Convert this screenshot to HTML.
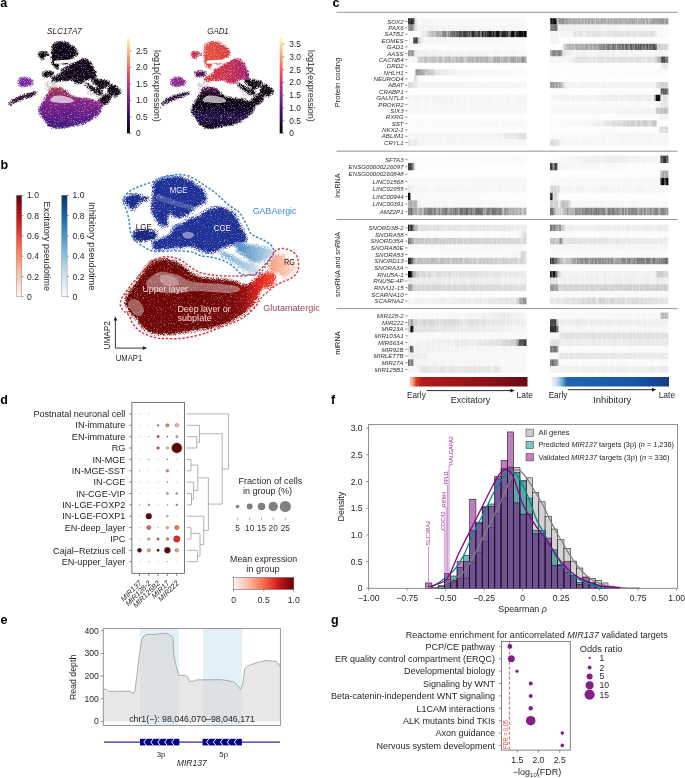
<!DOCTYPE html>
<html><head><meta charset="utf-8"><title>Figure</title>
<style>
html,body{margin:0;padding:0;background:#fff;width:685px;height:778px;overflow:hidden}
svg{display:block}
text{font-family:"Liberation Sans", sans-serif}
</style></head><body>
<svg width="685" height="778" viewBox="0 0 685 778">
<defs>
<filter id="spk" x="-10%" y="-10%" width="120%" height="120%" color-interpolation-filters="sRGB"><feTurbulence type="fractalNoise" baseFrequency="1.7" numOctaves="1" seed="7" result="n"/><feColorMatrix in="n" type="matrix" values="0 0 0 0 0  0 0 0 0 0  0 0 0 0 0  2.4 0 0 0 -0.7" result="na"/><feGaussianBlur in="SourceAlpha" stdDeviation="1.5" result="ba"/><feComposite in="ba" in2="na" operator="arithmetic" k1="0" k2="1" k3="-1" k4="0.58" result="d"/><feComponentTransfer in="d" result="m"><feFuncA type="linear" slope="1.15" intercept="0"/></feComponentTransfer><feMorphology in="SourceGraphic" operator="dilate" radius="1.5" result="dg"/><feComposite in="dg" in2="m" operator="in"/></filter>
<filter id="spk2" x="-10%" y="-10%" width="120%" height="120%" color-interpolation-filters="sRGB"><feTurbulence type="fractalNoise" baseFrequency="1.7" numOctaves="1" seed="3" result="n"/><feColorMatrix in="n" type="matrix" values="0 0 0 0 0  0 0 0 0 0  0 0 0 0 0  2.4 0 0 0 -0.7" result="na"/><feGaussianBlur in="SourceAlpha" stdDeviation="1.0" result="ba"/><feComposite in="ba" in2="na" operator="arithmetic" k1="0" k2="1" k3="-1" k4="0.56" result="d"/><feComponentTransfer in="d" result="m"><feFuncA type="linear" slope="1.1" intercept="0"/></feComponentTransfer><feMorphology in="SourceGraphic" operator="dilate" radius="1" result="dg"/><feComposite in="dg" in2="m" operator="in"/></filter>
<filter id="holes" x="-10%" y="-10%" width="120%" height="120%" color-interpolation-filters="sRGB"><feTurbulence type="fractalNoise" baseFrequency="1.9" numOctaves="1" seed="11" result="n"/><feColorMatrix in="n" type="matrix" values="0 0 0 0 0  0 0 0 0 0  0 0 0 0 0  3 0 0 0 -1" result="na"/><feGaussianBlur in="SourceAlpha" stdDeviation="1.5" result="ba"/><feComposite in="ba" in2="na" operator="arithmetic" k1="0" k2="1" k3="-1" k4="0.05" result="d"/><feComponentTransfer in="d" result="m"><feFuncA type="discrete" tableValues="0 1"/></feComponentTransfer><feComposite in="SourceGraphic" in2="m" operator="in"/></filter>
<linearGradient id="gMag" x1="0" y1="1" x2="0" y2="0"><stop offset="0" stop-color="#000004"/><stop offset="0.13" stop-color="#1c1044"/><stop offset="0.25" stop-color="#4f127b"/><stop offset="0.38" stop-color="#812581"/><stop offset="0.5" stop-color="#b5367a"/><stop offset="0.63" stop-color="#e55064"/><stop offset="0.75" stop-color="#fb8761"/><stop offset="0.88" stop-color="#fec287"/><stop offset="1" stop-color="#fcfdbf"/></linearGradient>
<linearGradient id="gA1red" x1="0" y1="258" x2="0" y2="334" gradientUnits="userSpaceOnUse"><stop offset="0" stop-color="#b03a3c"/><stop offset="0.18" stop-color="#8e2a62"/><stop offset="0.4" stop-color="#7c2288"/><stop offset="0.72" stop-color="#5c1a88"/><stop offset="1" stop-color="#3a1474"/></linearGradient>
<linearGradient id="gA2red" x1="0" y1="258" x2="0" y2="334" gradientUnits="userSpaceOnUse"><stop offset="0" stop-color="#5a1450"/><stop offset="0.15" stop-color="#260826"/><stop offset="0.3" stop-color="#08020a"/><stop offset="0.55" stop-color="#0e0420"/><stop offset="0.72" stop-color="#241048"/><stop offset="0.88" stop-color="#160630"/><stop offset="1" stop-color="#08020a"/></linearGradient>
<linearGradient id="gA2mge" x1="150" y1="220" x2="208" y2="180" gradientUnits="userSpaceOnUse"><stop offset="0" stop-color="#d03a48"/><stop offset="0.3" stop-color="#e4523e"/><stop offset="0.6" stop-color="#dc4440"/><stop offset="1" stop-color="#d03a3c"/></linearGradient>
<linearGradient id="gA2cge" x1="150" y1="0" x2="246" y2="0" gradientUnits="userSpaceOnUse"><stop offset="0" stop-color="#d63a44"/><stop offset="0.5" stop-color="#c8304e"/><stop offset="0.8" stop-color="#b02660"/><stop offset="1" stop-color="#8a1e6c"/></linearGradient>
<linearGradient id="gExcV" x1="0" y1="1" x2="0" y2="0"><stop offset="0" stop-color="#fff5f0"/><stop offset="0.25" stop-color="#fcbba1"/><stop offset="0.5" stop-color="#fb6a4a"/><stop offset="0.75" stop-color="#cb181d"/><stop offset="1" stop-color="#67000d"/></linearGradient>
<linearGradient id="gInhV" x1="0" y1="1" x2="0" y2="0"><stop offset="0" stop-color="#f7fbff"/><stop offset="0.25" stop-color="#c6dbef"/><stop offset="0.5" stop-color="#6baed6"/><stop offset="0.75" stop-color="#2171b5"/><stop offset="1" stop-color="#08306b"/></linearGradient>
<linearGradient id="gTail" x1="235" y1="0" x2="273" y2="0" gradientUnits="userSpaceOnUse"><stop offset="0" stop-color="#4f86bf"/><stop offset="0.5" stop-color="#79a9d0"/><stop offset="1" stop-color="#bcd7e9"/></linearGradient>
<linearGradient id="gTail2" x1="220" y1="0" x2="258" y2="0" gradientUnits="userSpaceOnUse"><stop offset="0" stop-color="#6f9fcc"/><stop offset="1" stop-color="#c4dcea"/></linearGradient>
<linearGradient id="gRG" x1="270" y1="0" x2="296" y2="0" gradientUnits="userSpaceOnUse"><stop offset="0" stop-color="#f79478"/><stop offset="0.45" stop-color="#fab59c"/><stop offset="1" stop-color="#fdd8c8"/></linearGradient>
<linearGradient id="gRed" x1="200" y1="0" x2="276" y2="0" gradientUnits="userSpaceOnUse"><stop offset="0" stop-color="#700707"/><stop offset="0.45" stop-color="#780909"/><stop offset="0.62" stop-color="#981010"/><stop offset="0.78" stop-color="#d8221c"/><stop offset="1" stop-color="#f24a34"/></linearGradient>
<linearGradient id="h1"><stop offset="0.0000" stop-color="rgb(25,25,25)"/><stop offset="0.0464" stop-color="rgb(31,31,31)"/><stop offset="0.0632" stop-color="rgb(222,222,222)"/><stop offset="0.0843" stop-color="rgb(245,245,245)"/><stop offset="1.0000" stop-color="rgb(249,249,249)"/></linearGradient>
<linearGradient id="h2"><stop offset="0.0000" stop-color="rgb(0,0,0)"/><stop offset="0.0507" stop-color="rgb(0,0,0)"/><stop offset="0.0633" stop-color="rgb(187,187,187)"/><stop offset="0.0802" stop-color="rgb(137,137,137)"/><stop offset="0.1351" stop-color="rgb(137,137,137)"/><stop offset="0.1520" stop-color="rgb(165,165,165)"/><stop offset="0.8446" stop-color="rgb(165,165,165)"/><stop offset="0.8953" stop-color="rgb(143,143,143)"/><stop offset="1.0000" stop-color="rgb(149,149,149)"/></linearGradient>
<linearGradient id="h3"><stop offset="0.0000" stop-color="rgb(126,126,126)"/><stop offset="0.0464" stop-color="rgb(137,137,137)"/><stop offset="0.0632" stop-color="rgb(209,209,209)"/><stop offset="0.0843" stop-color="rgb(242,242,242)"/><stop offset="1.0000" stop-color="rgb(246,246,246)"/></linearGradient>
<linearGradient id="h4"><stop offset="0.0000" stop-color="rgb(104,104,104)"/><stop offset="0.0549" stop-color="rgb(109,109,109)"/><stop offset="0.0676" stop-color="rgb(237,237,237)"/><stop offset="1.0000" stop-color="rgb(247,247,247)"/></linearGradient>
<linearGradient id="h5"><stop offset="0.0000" stop-color="rgb(254,254,254)"/><stop offset="0.0843" stop-color="rgb(252,252,252)"/><stop offset="0.1349" stop-color="rgb(232,232,232)"/><stop offset="0.2530" stop-color="rgb(160,160,160)"/><stop offset="0.3794" stop-color="rgb(93,93,93)"/><stop offset="0.5059" stop-color="rgb(53,53,53)"/><stop offset="0.6745" stop-color="rgb(25,25,25)"/><stop offset="1.0000" stop-color="rgb(0,0,0)"/></linearGradient>
<linearGradient id="h6"><stop offset="0.0000" stop-color="rgb(245,245,245)"/><stop offset="0.1858" stop-color="rgb(244,244,244)"/><stop offset="0.2111" stop-color="rgb(227,227,227)"/><stop offset="0.8953" stop-color="rgb(225,225,225)"/><stop offset="0.9122" stop-color="rgb(248,248,248)"/><stop offset="1.0000" stop-color="rgb(249,249,249)"/></linearGradient>
<linearGradient id="h7"><stop offset="0.0000" stop-color="rgb(253,253,253)"/><stop offset="0.0379" stop-color="rgb(253,253,253)"/><stop offset="0.0464" stop-color="rgb(37,37,37)"/><stop offset="0.0759" stop-color="rgb(37,37,37)"/><stop offset="0.0885" stop-color="rgb(187,187,187)"/><stop offset="0.1180" stop-color="rgb(244,244,244)"/><stop offset="1.0000" stop-color="rgb(249,249,249)"/></linearGradient>
<linearGradient id="h8"><stop offset="0.0000" stop-color="rgb(242,242,242)"/><stop offset="0.0676" stop-color="rgb(242,242,242)"/><stop offset="0.0845" stop-color="rgb(253,253,253)"/><stop offset="1.0000" stop-color="rgb(253,253,253)"/></linearGradient>
<linearGradient id="h9"><stop offset="0.0000" stop-color="rgb(252,252,252)"/><stop offset="1.0000" stop-color="rgb(250,250,250)"/></linearGradient>
<linearGradient id="h10"><stop offset="0.0000" stop-color="rgb(253,253,253)"/><stop offset="0.1014" stop-color="rgb(253,253,253)"/><stop offset="0.1351" stop-color="rgb(179,179,179)"/><stop offset="0.3378" stop-color="rgb(160,160,160)"/><stop offset="0.4645" stop-color="rgb(126,126,126)"/><stop offset="0.6757" stop-color="rgb(93,93,93)"/><stop offset="0.8446" stop-color="rgb(76,76,76)"/><stop offset="0.8953" stop-color="rgb(76,76,76)"/><stop offset="0.9079" stop-color="rgb(209,209,209)"/><stop offset="1.0000" stop-color="rgb(209,209,209)"/></linearGradient>
<linearGradient id="h11"><stop offset="0.0000" stop-color="rgb(126,126,126)"/><stop offset="0.0379" stop-color="rgb(137,137,137)"/><stop offset="0.0548" stop-color="rgb(216,216,216)"/><stop offset="0.0759" stop-color="rgb(239,239,239)"/><stop offset="1.0000" stop-color="rgb(246,246,246)"/></linearGradient>
<linearGradient id="h12"><stop offset="0.0000" stop-color="rgb(121,121,121)"/><stop offset="0.0929" stop-color="rgb(126,126,126)"/><stop offset="0.1098" stop-color="rgb(222,222,222)"/><stop offset="0.1689" stop-color="rgb(239,239,239)"/><stop offset="1.0000" stop-color="rgb(245,245,245)"/></linearGradient>
<linearGradient id="h13"><stop offset="0.0000" stop-color="rgb(246,246,246)"/><stop offset="0.0759" stop-color="rgb(244,244,244)"/><stop offset="0.0927" stop-color="rgb(195,195,195)"/><stop offset="0.5059" stop-color="rgb(179,179,179)"/><stop offset="0.8432" stop-color="rgb(165,165,165)"/><stop offset="1.0000" stop-color="rgb(137,137,137)"/></linearGradient>
<linearGradient id="h14"><stop offset="0.0000" stop-color="rgb(245,245,245)"/><stop offset="0.1858" stop-color="rgb(242,242,242)"/><stop offset="0.2111" stop-color="rgb(225,225,225)"/><stop offset="0.8868" stop-color="rgb(222,222,222)"/><stop offset="0.9291" stop-color="rgb(160,160,160)"/><stop offset="0.9459" stop-color="rgb(70,70,70)"/><stop offset="1.0000" stop-color="rgb(76,76,76)"/></linearGradient>
<linearGradient id="h15"><stop offset="0.0000" stop-color="rgb(254,254,254)"/><stop offset="1.0000" stop-color="rgb(253,253,253)"/></linearGradient>
<linearGradient id="h16"><stop offset="0.0000" stop-color="rgb(253,253,253)"/><stop offset="0.9291" stop-color="rgb(252,252,252)"/><stop offset="0.9459" stop-color="rgb(232,232,232)"/><stop offset="1.0000" stop-color="rgb(232,232,232)"/></linearGradient>
<linearGradient id="h17"><stop offset="0.0000" stop-color="rgb(254,254,254)"/><stop offset="0.0590" stop-color="rgb(254,254,254)"/><stop offset="0.0675" stop-color="rgb(126,126,126)"/><stop offset="0.1012" stop-color="rgb(154,154,154)"/><stop offset="0.2530" stop-color="rgb(227,227,227)"/><stop offset="0.4216" stop-color="rgb(245,245,245)"/><stop offset="1.0000" stop-color="rgb(249,249,249)"/></linearGradient>
<linearGradient id="h18"><stop offset="0.0000" stop-color="rgb(252,252,252)"/><stop offset="1.0000" stop-color="rgb(250,250,250)"/></linearGradient>
<linearGradient id="h19"><stop offset="0.0000" stop-color="rgb(254,254,254)"/><stop offset="0.0464" stop-color="rgb(254,254,254)"/><stop offset="0.0548" stop-color="rgb(222,222,222)"/><stop offset="0.0843" stop-color="rgb(232,232,232)"/><stop offset="0.0927" stop-color="rgb(253,253,253)"/><stop offset="1.0000" stop-color="rgb(254,254,254)"/></linearGradient>
<linearGradient id="h20"><stop offset="0.0000" stop-color="rgb(253,253,253)"/><stop offset="1.0000" stop-color="rgb(253,253,253)"/></linearGradient>
<linearGradient id="h21"><stop offset="0.0000" stop-color="rgb(209,209,209)"/><stop offset="0.0422" stop-color="rgb(222,222,222)"/><stop offset="0.0843" stop-color="rgb(242,242,242)"/><stop offset="1.0000" stop-color="rgb(245,245,245)"/></linearGradient>
<linearGradient id="h22"><stop offset="0.0000" stop-color="rgb(149,149,149)"/><stop offset="0.0845" stop-color="rgb(160,160,160)"/><stop offset="0.1267" stop-color="rgb(232,232,232)"/><stop offset="0.1689" stop-color="rgb(242,242,242)"/><stop offset="0.8868" stop-color="rgb(242,242,242)"/><stop offset="0.9122" stop-color="rgb(209,209,209)"/><stop offset="1.0000" stop-color="rgb(209,209,209)"/></linearGradient>
<linearGradient id="h23"><stop offset="0.0000" stop-color="rgb(253,253,253)"/><stop offset="1.0000" stop-color="rgb(253,253,253)"/></linearGradient>
<linearGradient id="h24"><stop offset="0.0000" stop-color="rgb(253,253,253)"/><stop offset="0.9291" stop-color="rgb(252,252,252)"/><stop offset="0.9375" stop-color="rgb(81,81,81)"/><stop offset="1.0000" stop-color="rgb(81,81,81)"/></linearGradient>
<linearGradient id="h25"><stop offset="0.0000" stop-color="rgb(242,242,242)"/><stop offset="1.0000" stop-color="rgb(245,245,245)"/></linearGradient>
<linearGradient id="h26"><stop offset="0.0000" stop-color="rgb(244,244,244)"/><stop offset="0.8784" stop-color="rgb(235,235,235)"/><stop offset="0.8953" stop-color="rgb(14,14,14)"/><stop offset="0.9291" stop-color="rgb(14,14,14)"/><stop offset="0.9375" stop-color="rgb(222,222,222)"/><stop offset="1.0000" stop-color="rgb(222,222,222)"/></linearGradient>
<linearGradient id="h27"><stop offset="0.0000" stop-color="rgb(245,245,245)"/><stop offset="1.0000" stop-color="rgb(244,244,244)"/></linearGradient>
<linearGradient id="h28"><stop offset="0.0000" stop-color="rgb(250,250,250)"/><stop offset="0.9291" stop-color="rgb(248,248,248)"/><stop offset="0.9375" stop-color="rgb(227,227,227)"/><stop offset="1.0000" stop-color="rgb(227,227,227)"/></linearGradient>
<linearGradient id="h29"><stop offset="0.0000" stop-color="rgb(247,247,247)"/><stop offset="1.0000" stop-color="rgb(245,245,245)"/></linearGradient>
<linearGradient id="h30"><stop offset="0.0000" stop-color="rgb(246,246,246)"/><stop offset="0.8868" stop-color="rgb(242,242,242)"/><stop offset="0.9037" stop-color="rgb(195,195,195)"/><stop offset="1.0000" stop-color="rgb(187,187,187)"/></linearGradient>
<linearGradient id="h31"><stop offset="0.0000" stop-color="rgb(253,253,253)"/><stop offset="1.0000" stop-color="rgb(253,253,253)"/></linearGradient>
<linearGradient id="h32"><stop offset="0.0000" stop-color="rgb(253,253,253)"/><stop offset="0.9122" stop-color="rgb(252,252,252)"/><stop offset="0.9291" stop-color="rgb(242,242,242)"/><stop offset="1.0000" stop-color="rgb(242,242,242)"/></linearGradient>
<linearGradient id="h33"><stop offset="0.0000" stop-color="rgb(250,250,250)"/><stop offset="1.0000" stop-color="rgb(248,248,248)"/></linearGradient>
<linearGradient id="h34"><stop offset="0.0000" stop-color="rgb(252,252,252)"/><stop offset="0.3378" stop-color="rgb(246,246,246)"/><stop offset="0.6334" stop-color="rgb(209,209,209)"/><stop offset="0.8953" stop-color="rgb(195,195,195)"/><stop offset="0.9079" stop-color="rgb(253,253,253)"/><stop offset="1.0000" stop-color="rgb(253,253,253)"/></linearGradient>
<linearGradient id="h35"><stop offset="0.0000" stop-color="rgb(252,252,252)"/><stop offset="1.0000" stop-color="rgb(252,252,252)"/></linearGradient>
<linearGradient id="h36"><stop offset="0.0000" stop-color="rgb(253,253,253)"/><stop offset="0.9122" stop-color="rgb(252,252,252)"/><stop offset="0.9291" stop-color="rgb(216,216,216)"/><stop offset="1.0000" stop-color="rgb(216,216,216)"/></linearGradient>
<linearGradient id="h37"><stop offset="0.0000" stop-color="rgb(245,245,245)"/><stop offset="0.7589" stop-color="rgb(242,242,242)"/><stop offset="0.9444" stop-color="rgb(222,222,222)"/><stop offset="1.0000" stop-color="rgb(218,218,218)"/></linearGradient>
<linearGradient id="h38"><stop offset="0.0000" stop-color="rgb(248,248,248)"/><stop offset="1.0000" stop-color="rgb(245,245,245)"/></linearGradient>
<linearGradient id="h39"><stop offset="0.0000" stop-color="rgb(222,222,222)"/><stop offset="0.0506" stop-color="rgb(232,232,232)"/><stop offset="0.1012" stop-color="rgb(244,244,244)"/><stop offset="1.0000" stop-color="rgb(245,245,245)"/></linearGradient>
<linearGradient id="h40"><stop offset="0.0000" stop-color="rgb(209,209,209)"/><stop offset="0.0591" stop-color="rgb(222,222,222)"/><stop offset="0.1014" stop-color="rgb(244,244,244)"/><stop offset="1.0000" stop-color="rgb(245,245,245)"/></linearGradient>
<linearGradient id="h41"><stop offset="0.0000" stop-color="rgb(252,252,252)"/><stop offset="1.0000" stop-color="rgb(249,249,249)"/></linearGradient>
<linearGradient id="h42"><stop offset="0.0000" stop-color="rgb(252,252,252)"/><stop offset="0.0845" stop-color="rgb(249,249,249)"/><stop offset="0.3378" stop-color="rgb(239,239,239)"/><stop offset="0.5912" stop-color="rgb(235,235,235)"/><stop offset="0.8446" stop-color="rgb(245,245,245)"/><stop offset="0.9291" stop-color="rgb(245,245,245)"/><stop offset="0.9375" stop-color="rgb(48,48,48)"/><stop offset="1.0000" stop-color="rgb(48,48,48)"/></linearGradient>
<linearGradient id="h43"><stop offset="0.0000" stop-color="rgb(65,65,65)"/><stop offset="0.0379" stop-color="rgb(65,65,65)"/><stop offset="0.0548" stop-color="rgb(222,222,222)"/><stop offset="0.0759" stop-color="rgb(252,252,252)"/><stop offset="1.0000" stop-color="rgb(253,253,253)"/></linearGradient>
<linearGradient id="h44"><stop offset="0.0000" stop-color="rgb(48,48,48)"/><stop offset="0.0549" stop-color="rgb(53,53,53)"/><stop offset="0.0718" stop-color="rgb(245,245,245)"/><stop offset="1.0000" stop-color="rgb(252,252,252)"/></linearGradient>
<linearGradient id="h45"><stop offset="0.0000" stop-color="rgb(254,254,254)"/><stop offset="1.0000" stop-color="rgb(253,253,253)"/></linearGradient>
<linearGradient id="h46"><stop offset="0.0000" stop-color="rgb(253,253,253)"/><stop offset="0.9291" stop-color="rgb(252,252,252)"/><stop offset="0.9375" stop-color="rgb(160,160,160)"/><stop offset="1.0000" stop-color="rgb(160,160,160)"/></linearGradient>
<linearGradient id="h47"><stop offset="0.0000" stop-color="rgb(248,248,248)"/><stop offset="1.0000" stop-color="rgb(245,245,245)"/></linearGradient>
<linearGradient id="h48"><stop offset="0.0000" stop-color="rgb(249,249,249)"/><stop offset="0.9291" stop-color="rgb(246,246,246)"/><stop offset="0.9375" stop-color="rgb(0,0,0)"/><stop offset="1.0000" stop-color="rgb(0,0,0)"/></linearGradient>
<linearGradient id="h49"><stop offset="0.0000" stop-color="rgb(227,227,227)"/><stop offset="0.0211" stop-color="rgb(232,232,232)"/><stop offset="0.0337" stop-color="rgb(244,244,244)"/><stop offset="1.0000" stop-color="rgb(245,245,245)"/></linearGradient>
<linearGradient id="h50"><stop offset="0.0000" stop-color="rgb(209,209,209)"/><stop offset="0.0760" stop-color="rgb(216,216,216)"/><stop offset="0.0929" stop-color="rgb(242,242,242)"/><stop offset="1.0000" stop-color="rgb(245,245,245)"/></linearGradient>
<linearGradient id="h51"><stop offset="0.0000" stop-color="rgb(0,0,0)"/><stop offset="0.0169" stop-color="rgb(0,0,0)"/><stop offset="0.0253" stop-color="rgb(248,248,248)"/><stop offset="1.0000" stop-color="rgb(253,253,253)"/></linearGradient>
<linearGradient id="h52"><stop offset="0.0000" stop-color="rgb(25,25,25)"/><stop offset="0.0169" stop-color="rgb(37,37,37)"/><stop offset="0.0253" stop-color="rgb(209,209,209)"/><stop offset="0.0591" stop-color="rgb(216,216,216)"/><stop offset="0.0760" stop-color="rgb(252,252,252)"/><stop offset="1.0000" stop-color="rgb(253,253,253)"/></linearGradient>
<linearGradient id="h53"><stop offset="0.0000" stop-color="rgb(165,165,165)"/><stop offset="0.0675" stop-color="rgb(171,171,171)"/><stop offset="0.0843" stop-color="rgb(232,232,232)"/><stop offset="0.1096" stop-color="rgb(246,246,246)"/><stop offset="1.0000" stop-color="rgb(249,249,249)"/></linearGradient>
<linearGradient id="h54"><stop offset="0.0000" stop-color="rgb(202,202,202)"/><stop offset="0.0591" stop-color="rgb(202,202,202)"/><stop offset="0.0760" stop-color="rgb(242,242,242)"/><stop offset="0.1014" stop-color="rgb(187,187,187)"/><stop offset="0.1520" stop-color="rgb(195,195,195)"/><stop offset="0.1858" stop-color="rgb(245,245,245)"/><stop offset="1.0000" stop-color="rgb(248,248,248)"/></linearGradient>
<linearGradient id="h55"><stop offset="0.0000" stop-color="rgb(93,93,93)"/><stop offset="0.0337" stop-color="rgb(98,98,98)"/><stop offset="0.0506" stop-color="rgb(160,160,160)"/><stop offset="0.1012" stop-color="rgb(165,165,165)"/><stop offset="0.1518" stop-color="rgb(126,126,126)"/><stop offset="0.3373" stop-color="rgb(115,115,115)"/><stop offset="0.5059" stop-color="rgb(104,104,104)"/><stop offset="0.7589" stop-color="rgb(115,115,115)"/><stop offset="0.8432" stop-color="rgb(160,160,160)"/><stop offset="1.0000" stop-color="rgb(179,179,179)"/></linearGradient>
<linearGradient id="h56"><stop offset="0.0000" stop-color="rgb(104,104,104)"/><stop offset="0.0338" stop-color="rgb(109,109,109)"/><stop offset="0.0507" stop-color="rgb(209,209,209)"/><stop offset="0.1014" stop-color="rgb(216,216,216)"/><stop offset="0.1520" stop-color="rgb(149,149,149)"/><stop offset="0.4223" stop-color="rgb(115,115,115)"/><stop offset="0.6757" stop-color="rgb(137,137,137)"/><stop offset="1.0000" stop-color="rgb(132,132,132)"/></linearGradient>
<linearGradient id="h57"><stop offset="0.0000" stop-color="rgb(31,31,31)"/><stop offset="0.0295" stop-color="rgb(48,48,48)"/><stop offset="0.0590" stop-color="rgb(171,171,171)"/><stop offset="0.1012" stop-color="rgb(222,222,222)"/><stop offset="1.0000" stop-color="rgb(235,235,235)"/></linearGradient>
<linearGradient id="h58"><stop offset="0.0000" stop-color="rgb(115,115,115)"/><stop offset="0.0845" stop-color="rgb(126,126,126)"/><stop offset="0.1014" stop-color="rgb(187,187,187)"/><stop offset="0.1351" stop-color="rgb(239,239,239)"/><stop offset="1.0000" stop-color="rgb(235,235,235)"/></linearGradient>
<linearGradient id="h59"><stop offset="0.0000" stop-color="rgb(253,253,253)"/><stop offset="0.9444" stop-color="rgb(250,250,250)"/><stop offset="0.9612" stop-color="rgb(222,222,222)"/><stop offset="1.0000" stop-color="rgb(222,222,222)"/></linearGradient>
<linearGradient id="h60"><stop offset="0.0000" stop-color="rgb(250,250,250)"/><stop offset="1.0000" stop-color="rgb(250,250,250)"/></linearGradient>
<linearGradient id="h61"><stop offset="0.0000" stop-color="rgb(109,109,109)"/><stop offset="0.0295" stop-color="rgb(121,121,121)"/><stop offset="0.0506" stop-color="rgb(195,195,195)"/><stop offset="1.0000" stop-color="rgb(216,216,216)"/></linearGradient>
<linearGradient id="h62"><stop offset="0.0000" stop-color="rgb(187,187,187)"/><stop offset="0.0760" stop-color="rgb(187,187,187)"/><stop offset="0.0845" stop-color="rgb(126,126,126)"/><stop offset="0.0971" stop-color="rgb(137,137,137)"/><stop offset="0.1098" stop-color="rgb(222,222,222)"/><stop offset="1.0000" stop-color="rgb(235,235,235)"/></linearGradient>
<linearGradient id="h63"><stop offset="0.0000" stop-color="rgb(248,248,248)"/><stop offset="1.0000" stop-color="rgb(247,247,247)"/></linearGradient>
<linearGradient id="h64"><stop offset="0.0000" stop-color="rgb(246,246,246)"/><stop offset="1.0000" stop-color="rgb(244,244,244)"/></linearGradient>
<linearGradient id="h65"><stop offset="0.0000" stop-color="rgb(253,253,253)"/><stop offset="0.8432" stop-color="rgb(249,249,249)"/><stop offset="0.9444" stop-color="rgb(242,242,242)"/><stop offset="0.9612" stop-color="rgb(209,209,209)"/><stop offset="1.0000" stop-color="rgb(209,209,209)"/></linearGradient>
<linearGradient id="h66"><stop offset="0.0000" stop-color="rgb(250,250,250)"/><stop offset="1.0000" stop-color="rgb(250,250,250)"/></linearGradient>
<linearGradient id="h67"><stop offset="0.0000" stop-color="rgb(0,0,0)"/><stop offset="0.0211" stop-color="rgb(14,14,14)"/><stop offset="0.0506" stop-color="rgb(179,179,179)"/><stop offset="1.0000" stop-color="rgb(209,209,209)"/></linearGradient>
<linearGradient id="h68"><stop offset="0.0000" stop-color="rgb(48,48,48)"/><stop offset="0.0422" stop-color="rgb(70,70,70)"/><stop offset="0.0676" stop-color="rgb(149,149,149)"/><stop offset="0.1182" stop-color="rgb(202,202,202)"/><stop offset="0.2534" stop-color="rgb(137,137,137)"/><stop offset="0.5912" stop-color="rgb(137,137,137)"/><stop offset="1.0000" stop-color="rgb(109,109,109)"/></linearGradient>
<linearGradient id="h69"><stop offset="0.0000" stop-color="rgb(253,253,253)"/><stop offset="1.0000" stop-color="rgb(252,252,252)"/></linearGradient>
<linearGradient id="h70"><stop offset="0.0000" stop-color="rgb(252,252,252)"/><stop offset="1.0000" stop-color="rgb(252,252,252)"/></linearGradient>
<linearGradient id="h71"><stop offset="0.0000" stop-color="rgb(0,0,0)"/><stop offset="0.0253" stop-color="rgb(9,9,9)"/><stop offset="0.0506" stop-color="rgb(171,171,171)"/><stop offset="0.1012" stop-color="rgb(216,216,216)"/><stop offset="1.0000" stop-color="rgb(232,232,232)"/></linearGradient>
<linearGradient id="h72"><stop offset="0.0000" stop-color="rgb(0,0,0)"/><stop offset="0.0422" stop-color="rgb(14,14,14)"/><stop offset="0.0676" stop-color="rgb(187,187,187)"/><stop offset="0.1014" stop-color="rgb(242,242,242)"/><stop offset="0.8868" stop-color="rgb(239,239,239)"/><stop offset="0.9122" stop-color="rgb(202,202,202)"/><stop offset="1.0000" stop-color="rgb(202,202,202)"/></linearGradient>
<linearGradient id="h73"><stop offset="0.0000" stop-color="rgb(232,232,232)"/><stop offset="1.0000" stop-color="rgb(239,239,239)"/></linearGradient>
<linearGradient id="h74"><stop offset="0.0000" stop-color="rgb(222,222,222)"/><stop offset="0.0591" stop-color="rgb(225,225,225)"/><stop offset="0.0760" stop-color="rgb(239,239,239)"/><stop offset="1.0000" stop-color="rgb(235,235,235)"/></linearGradient>
<linearGradient id="h75"><stop offset="0.0000" stop-color="rgb(143,143,143)"/><stop offset="0.0295" stop-color="rgb(154,154,154)"/><stop offset="0.0506" stop-color="rgb(209,209,209)"/><stop offset="1.0000" stop-color="rgb(218,218,218)"/></linearGradient>
<linearGradient id="h76"><stop offset="0.0000" stop-color="rgb(137,137,137)"/><stop offset="0.0591" stop-color="rgb(149,149,149)"/><stop offset="0.0760" stop-color="rgb(209,209,209)"/><stop offset="1.0000" stop-color="rgb(202,202,202)"/></linearGradient>
<linearGradient id="h77"><stop offset="0.0000" stop-color="rgb(252,252,252)"/><stop offset="1.0000" stop-color="rgb(252,252,252)"/></linearGradient>
<linearGradient id="h78"><stop offset="0.0000" stop-color="rgb(249,249,249)"/><stop offset="1.0000" stop-color="rgb(248,248,248)"/></linearGradient>
<linearGradient id="h79"><stop offset="0.0000" stop-color="rgb(242,242,242)"/><stop offset="0.6745" stop-color="rgb(232,232,232)"/><stop offset="0.9106" stop-color="rgb(222,222,222)"/><stop offset="0.9696" stop-color="rgb(137,137,137)"/><stop offset="1.0000" stop-color="rgb(121,121,121)"/></linearGradient>
<linearGradient id="h80"><stop offset="0.0000" stop-color="rgb(232,232,232)"/><stop offset="0.4223" stop-color="rgb(209,209,209)"/><stop offset="0.6757" stop-color="rgb(216,216,216)"/><stop offset="1.0000" stop-color="rgb(227,227,227)"/></linearGradient>
<linearGradient id="h81"><stop offset="0.0000" stop-color="rgb(249,249,249)"/><stop offset="0.5902" stop-color="rgb(244,244,244)"/><stop offset="0.8010" stop-color="rgb(232,232,232)"/><stop offset="1.0000" stop-color="rgb(245,245,245)"/></linearGradient>
<linearGradient id="h82"><stop offset="0.0000" stop-color="rgb(249,249,249)"/><stop offset="0.9291" stop-color="rgb(245,245,245)"/><stop offset="0.9375" stop-color="rgb(179,179,179)"/><stop offset="1.0000" stop-color="rgb(179,179,179)"/></linearGradient>
<linearGradient id="h83"><stop offset="0.0000" stop-color="rgb(149,149,149)"/><stop offset="0.0295" stop-color="rgb(154,154,154)"/><stop offset="0.0506" stop-color="rgb(209,209,209)"/><stop offset="0.5059" stop-color="rgb(222,222,222)"/><stop offset="1.0000" stop-color="rgb(237,237,237)"/></linearGradient>
<linearGradient id="h84"><stop offset="0.0000" stop-color="rgb(48,48,48)"/><stop offset="0.0507" stop-color="rgb(53,53,53)"/><stop offset="0.0676" stop-color="rgb(232,232,232)"/><stop offset="1.0000" stop-color="rgb(239,239,239)"/></linearGradient>
<linearGradient id="h85"><stop offset="0.0000" stop-color="rgb(202,202,202)"/><stop offset="0.0126" stop-color="rgb(202,202,202)"/><stop offset="0.0211" stop-color="rgb(14,14,14)"/><stop offset="0.0422" stop-color="rgb(20,20,20)"/><stop offset="0.0506" stop-color="rgb(222,222,222)"/><stop offset="1.0000" stop-color="rgb(245,245,245)"/></linearGradient>
<linearGradient id="h86"><stop offset="0.0000" stop-color="rgb(20,20,20)"/><stop offset="0.0591" stop-color="rgb(20,20,20)"/><stop offset="0.0760" stop-color="rgb(244,244,244)"/><stop offset="1.0000" stop-color="rgb(246,246,246)"/></linearGradient>
<linearGradient id="h87"><stop offset="0.0000" stop-color="rgb(249,249,249)"/><stop offset="1.0000" stop-color="rgb(248,248,248)"/></linearGradient>
<linearGradient id="h88"><stop offset="0.0000" stop-color="rgb(249,249,249)"/><stop offset="0.0676" stop-color="rgb(248,248,248)"/><stop offset="0.1014" stop-color="rgb(222,222,222)"/><stop offset="1.0000" stop-color="rgb(222,222,222)"/></linearGradient>
<linearGradient id="h89"><stop offset="0.0000" stop-color="rgb(245,245,245)"/><stop offset="0.6745" stop-color="rgb(229,229,229)"/><stop offset="0.9106" stop-color="rgb(202,202,202)"/><stop offset="0.9444" stop-color="rgb(70,70,70)"/><stop offset="1.0000" stop-color="rgb(59,59,59)"/></linearGradient>
<linearGradient id="h90"><stop offset="0.0000" stop-color="rgb(222,222,222)"/><stop offset="0.0676" stop-color="rgb(222,222,222)"/><stop offset="0.0845" stop-color="rgb(235,235,235)"/><stop offset="1.0000" stop-color="rgb(232,232,232)"/></linearGradient>
<linearGradient id="h91"><stop offset="0.0000" stop-color="rgb(222,222,222)"/><stop offset="0.0126" stop-color="rgb(222,222,222)"/><stop offset="0.0211" stop-color="rgb(87,87,87)"/><stop offset="0.0422" stop-color="rgb(93,93,93)"/><stop offset="0.0506" stop-color="rgb(239,239,239)"/><stop offset="1.0000" stop-color="rgb(248,248,248)"/></linearGradient>
<linearGradient id="h92"><stop offset="0.0000" stop-color="rgb(109,109,109)"/><stop offset="0.0591" stop-color="rgb(115,115,115)"/><stop offset="0.0760" stop-color="rgb(249,249,249)"/><stop offset="1.0000" stop-color="rgb(249,249,249)"/></linearGradient>
<linearGradient id="h93"><stop offset="0.0000" stop-color="rgb(235,235,235)"/><stop offset="0.1518" stop-color="rgb(237,237,237)"/><stop offset="0.1686" stop-color="rgb(246,246,246)"/><stop offset="1.0000" stop-color="rgb(248,248,248)"/></linearGradient>
<linearGradient id="h94"><stop offset="0.0000" stop-color="rgb(249,249,249)"/><stop offset="0.0676" stop-color="rgb(248,248,248)"/><stop offset="0.0845" stop-color="rgb(227,227,227)"/><stop offset="1.0000" stop-color="rgb(232,232,232)"/></linearGradient>
<linearGradient id="h95"><stop offset="0.0000" stop-color="rgb(104,104,104)"/><stop offset="0.0379" stop-color="rgb(109,109,109)"/><stop offset="0.0506" stop-color="rgb(242,242,242)"/><stop offset="1.0000" stop-color="rgb(248,248,248)"/></linearGradient>
<linearGradient id="h96"><stop offset="0.0000" stop-color="rgb(109,109,109)"/><stop offset="0.0591" stop-color="rgb(115,115,115)"/><stop offset="0.0760" stop-color="rgb(249,249,249)"/><stop offset="1.0000" stop-color="rgb(249,249,249)"/></linearGradient>
<linearGradient id="h97"><stop offset="0.0000" stop-color="rgb(245,245,245)"/><stop offset="0.0843" stop-color="rgb(244,244,244)"/><stop offset="0.1012" stop-color="rgb(229,229,229)"/><stop offset="0.7589" stop-color="rgb(227,227,227)"/><stop offset="0.8010" stop-color="rgb(245,245,245)"/><stop offset="1.0000" stop-color="rgb(248,248,248)"/></linearGradient>
<linearGradient id="h98"><stop offset="0.0000" stop-color="rgb(242,242,242)"/><stop offset="1.0000" stop-color="rgb(233,233,233)"/></linearGradient>
<linearGradient id="gExc"><stop offset="0" stop-color="#fcc8a8"/><stop offset="0.025" stop-color="#f4a080"/><stop offset="0.055" stop-color="#d83a28"/><stop offset="0.1" stop-color="#b01c1c"/><stop offset="0.4" stop-color="#9a1618"/><stop offset="0.75" stop-color="#801018"/><stop offset="1" stop-color="#680a14"/></linearGradient>
<linearGradient id="gInh"><stop offset="0" stop-color="#eef3fb"/><stop offset="0.05" stop-color="#c6dbef"/><stop offset="0.09" stop-color="#6baed6"/><stop offset="0.13" stop-color="#1f65b0"/><stop offset="0.7" stop-color="#1558a5"/><stop offset="1" stop-color="#173d86"/></linearGradient>
<filter id="strp0" x="0" y="0" width="100%" height="100%" color-interpolation-filters="sRGB"><feTurbulence type="fractalNoise" baseFrequency="0.62 0.045" numOctaves="1" seed="11" result="n"/><feColorMatrix in="n" type="matrix" values="1.2 0 0 0 -0.48  1.2 0 0 0 -0.48  1.2 0 0 0 -0.48  0 0 0 0 1"/></filter>
<filter id="strp1" x="0" y="0" width="100%" height="100%" color-interpolation-filters="sRGB"><feTurbulence type="fractalNoise" baseFrequency="0.62 0.045" numOctaves="1" seed="16" result="n"/><feColorMatrix in="n" type="matrix" values="1.2 0 0 0 -0.48  1.2 0 0 0 -0.48  1.2 0 0 0 -0.48  0 0 0 0 1"/></filter>
<linearGradient id="gReds" x1="0" x2="1" y1="0" y2="0"><stop offset="0" stop-color="#fff5f0"/><stop offset="0.25" stop-color="#fcbba1"/><stop offset="0.5" stop-color="#fb6a4a"/><stop offset="0.75" stop-color="#cb181d"/><stop offset="1" stop-color="#67000d"/></linearGradient>
<clipPath id="clipE"><rect x="103.3" y="628.6" width="177.1" height="96.9"/></clipPath>
</defs>
<rect width="685" height="778" fill="#fff"/>
<text x="0.2" y="6.6" style="font-size:12.5px;font-weight:bold;" fill="#000">a</text>
<text x="0.5" y="168.8" style="font-size:12.5px;font-weight:bold;" fill="#000">b</text>
<text x="332.6" y="6.6" style="font-size:12.5px;font-weight:bold;" fill="#000">c</text>
<text x="0.2" y="403.6" style="font-size:12.5px;font-weight:bold;" fill="#000">d</text>
<text x="0.4" y="624.3" style="font-size:12.5px;font-weight:bold;" fill="#000">e</text>
<text x="331.0" y="403.8" style="font-size:12.5px;font-weight:bold;" fill="#000">f</text>
<text x="331.0" y="624.0" style="font-size:12.5px;font-weight:bold;" fill="#000">g</text>
<g filter="url(#spk2)">
<path d="M18.3,82.0 C18.5,80.8 19.1,78.8 20.5,78.0 C21.9,77.2 24.7,77.0 26.5,77.3 C28.3,77.6 30.4,78.8 31.5,79.8 C32.6,80.8 33.3,82.2 33.0,83.2 C32.7,84.2 31.1,85.2 29.5,85.8 C27.9,86.3 25.2,86.6 23.5,86.5 C21.8,86.4 20.2,86.0 19.3,85.2 C18.4,84.5 18.1,83.2 18.3,82.0Z" fill="#7a2aa0"/>
<path d="M9.0,103.5 C9.7,102.5 11.8,100.5 14.0,99.2 C16.2,97.9 19.3,96.6 22.0,95.6 C24.7,94.6 27.8,93.9 30.0,93.3 C32.2,92.7 34.4,91.8 35.5,91.8 C36.6,91.8 37.2,92.9 36.5,93.6 C35.8,94.3 33.2,95.3 31.0,96.2 C28.8,97.1 25.7,97.9 23.0,99.0 C20.3,100.1 17.2,101.6 15.0,102.6 C12.8,103.6 11.0,105.0 10.0,105.2 C9.0,105.4 8.3,104.5 9.0,103.5Z" fill="#2a0a28"/>
<g transform="matrix(0.48,0,0,0.55,-21.50,-55.5)">
<path d="M140.0,252.0 C142.0,250.5 148.7,250.3 152.0,251.0 C155.3,251.7 159.0,253.8 160.0,256.0 C161.0,258.2 160.0,262.3 158.0,264.0 C156.0,265.7 151.0,266.7 148.0,266.0 C145.0,265.3 141.3,262.3 140.0,260.0 C138.7,257.7 138.0,253.5 140.0,252.0Z" fill="#1a0a1a" opacity="0.35"/>
<path d="M225.0,258.0 C227.0,257.0 235.0,260.7 240.0,262.0 C245.0,263.3 251.3,264.3 255.0,266.0 C258.7,267.7 262.0,270.3 262.0,272.0 C262.0,273.7 258.7,275.5 255.0,276.0 C251.3,276.5 244.5,276.3 240.0,275.0 C235.5,273.7 230.5,270.8 228.0,268.0 C225.5,265.2 223.0,259.0 225.0,258.0Z" fill="#1a0a1a" opacity="0.3"/>
<path d="M237.8,243.6 C239.8,242.8 245.2,244.8 248.8,245.3 C252.5,245.8 256.1,245.9 259.7,246.5 C263.3,247.1 268.5,247.9 270.7,248.8 C272.9,249.7 272.7,251.0 273.0,252.0 C273.3,253.0 273.6,253.8 272.5,255.0 C271.4,256.2 268.8,257.8 266.3,259.0 C263.8,260.2 260.2,261.8 257.6,262.2 C255.1,262.6 252.8,262.0 251.0,261.1 C249.2,260.2 248.1,258.1 246.6,256.8 C245.1,255.5 243.8,254.6 242.2,253.5 C240.6,252.4 237.7,251.7 237.0,250.0 C236.3,248.3 235.8,244.4 237.8,243.6Z" fill="#160a18"/>
<path d="M221.4,251.5 C223.1,251.8 229.1,254.5 232.4,256.0 C235.7,257.5 238.4,259.2 241.1,260.3 C243.8,261.4 246.4,261.8 248.8,262.5 C251.2,263.2 253.9,263.3 255.4,264.4 C256.9,265.4 257.8,267.3 258.0,268.8 C258.2,270.3 258.0,272.8 256.5,273.2 C255.0,273.6 251.4,272.5 248.8,271.5 C246.2,270.5 243.8,268.9 241.1,267.2 C238.4,265.5 235.6,263.6 232.4,261.5 C229.2,259.4 223.8,256.2 222.0,254.5 C220.2,252.8 219.7,251.2 221.4,251.5Z" fill="#160a18"/>
<path d="M273.0,257.5 C273.6,256.5 273.6,255.4 274.8,254.9 C276.0,254.4 278.6,254.3 280.0,254.5 C281.4,254.7 282.0,254.9 283.5,255.8 C285.0,256.7 286.9,258.7 288.8,260.1 C290.7,261.6 293.7,263.0 294.9,264.5 C296.1,266.0 296.1,267.6 295.8,268.9 C295.5,270.2 294.7,271.4 293.2,272.4 C291.7,273.4 288.3,274.1 287.0,275.0 C285.7,275.9 286.2,277.7 285.3,277.7 C284.4,277.7 283.0,275.7 281.8,275.0 C280.6,274.3 279.6,273.9 278.3,273.3 C277.0,272.7 275.2,271.9 273.9,271.5 C272.6,271.1 271.1,271.6 270.4,270.7 C269.7,269.8 269.4,267.9 269.5,266.3 C269.6,264.7 270.7,262.5 271.3,261.0 C271.9,259.5 272.4,258.5 273.0,257.5Z" fill="#120814"/>
<path d="M146.9,266.7 C148.8,264.4 150.8,263.1 152.7,262.0 C154.6,260.9 156.2,260.7 158.5,260.3 C160.8,259.9 164.0,259.4 166.7,259.7 C169.4,260.0 172.2,260.8 174.9,262.0 C177.6,263.2 180.6,264.9 183.1,266.7 C185.6,268.4 187.2,270.8 190.0,272.5 C192.8,274.2 195.9,276.1 200.0,277.2 C204.1,278.3 209.7,278.5 214.6,279.0 C219.5,279.5 225.5,279.9 229.2,280.4 C232.8,280.9 234.5,281.2 236.5,281.9 C238.5,282.6 239.1,284.0 241.0,284.5 C242.9,285.0 246.0,285.4 248.2,284.8 C250.4,284.2 252.3,282.3 254.0,281.0 C255.7,279.7 256.2,278.1 258.1,276.8 C260.0,275.5 262.9,274.2 265.1,273.3 C267.3,272.4 269.7,271.2 271.3,271.5 C272.9,271.8 274.4,273.2 274.8,275.0 C275.2,276.8 274.8,280.1 273.9,282.0 C273.0,283.9 271.0,285.5 269.5,286.4 C268.0,287.3 266.6,286.9 265.1,287.3 C263.7,287.7 261.9,287.7 260.8,289.0 C259.7,290.3 259.3,293.0 258.4,295.0 C257.5,297.0 257.0,298.7 255.5,300.9 C254.0,303.1 251.8,306.0 249.6,308.2 C247.4,310.4 244.7,312.3 242.3,314.0 C239.9,315.7 237.7,316.9 235.0,318.4 C232.3,319.9 229.2,321.6 226.3,322.8 C223.4,324.0 220.7,324.7 217.5,325.7 C214.3,326.7 210.6,328.0 207.3,328.6 C204.0,329.2 200.7,329.0 197.6,329.5 C194.5,330.0 191.9,330.9 189.0,331.5 C186.1,332.1 183.5,332.4 180.0,332.8 C176.5,333.2 171.5,333.8 168.0,334.0 C164.5,334.2 161.8,334.3 159.0,334.0 C156.2,333.7 153.3,332.9 151.0,332.0 C148.7,331.1 146.8,330.3 145.0,328.8 C143.2,327.3 141.5,325.0 140.0,323.0 C138.5,321.0 137.5,318.6 136.0,317.0 C134.5,315.4 132.5,315.2 131.0,313.4 C129.5,311.6 127.9,308.7 127.0,306.4 C126.1,304.1 125.4,301.7 125.8,299.4 C126.2,297.1 127.7,294.9 129.3,292.4 C130.9,289.9 133.2,286.9 135.2,284.2 C137.1,281.5 139.1,278.9 141.0,276.0 C142.9,273.1 145.0,269.0 146.9,266.7Z" fill="url(#gA1red)"/>
<path d="M124.4,199.5 C125.0,198.5 127.4,196.8 128.8,196.0 C130.2,195.2 131.7,194.8 133.1,194.7 C134.5,194.5 135.9,194.7 137.5,195.1 C139.1,195.5 141.1,196.3 142.8,196.9 C144.6,197.5 147.4,198.0 148.0,198.6 C148.6,199.2 147.5,199.9 146.3,200.4 C145.1,200.9 142.5,200.7 141.0,201.3 C139.5,201.9 138.7,202.6 137.5,203.9 C136.3,205.2 135.0,208.5 134.0,209.2 C133.0,209.9 132.3,209.0 131.4,208.3 C130.5,207.6 129.8,205.8 128.8,204.8 C127.8,203.8 126.0,203.1 125.3,202.2 C124.6,201.3 123.8,200.5 124.4,199.5Z" fill="#0c0410"/>
<path d="M154.2,183.8 C155.6,181.5 159.0,180.0 161.7,178.8 C164.4,177.6 167.6,177.1 170.5,176.8 C173.4,176.5 176.5,176.6 179.2,177.0 C181.9,177.4 183.9,178.3 186.5,179.5 C189.1,180.7 192.0,182.6 194.5,184.3 C197.0,186.0 199.6,187.6 201.5,189.5 C203.4,191.4 205.4,193.5 206.0,195.5 C206.6,197.5 206.1,199.8 205.0,201.4 C203.9,203.0 201.3,204.1 199.7,205.0 C198.1,205.9 196.8,206.1 195.5,207.0 C194.2,207.9 193.3,209.3 192.0,210.5 C190.7,211.7 189.6,212.8 187.7,214.0 C185.8,215.2 183.0,217.2 180.7,217.5 C178.4,217.8 176.1,216.8 174.0,216.0 C171.9,215.2 169.6,212.7 168.4,213.0 C167.2,213.3 167.2,216.5 167.0,218.0 C166.8,219.5 167.7,220.6 167.5,222.0 C167.3,223.4 167.0,225.9 165.8,226.3 C164.6,226.7 162.2,226.0 160.5,224.5 C158.8,223.0 156.8,220.1 155.3,217.5 C153.9,214.9 152.3,211.5 151.8,208.8 C151.3,206.1 152.2,204.0 152.4,201.3 C152.7,198.6 153.0,195.4 153.3,192.5 C153.6,189.6 152.8,186.1 154.2,183.8Z" fill="#0e0514"/>
<path d="M202.3,214.0 C204.3,212.8 205.5,210.7 208.2,209.6 C210.9,208.5 215.2,207.4 218.4,207.4 C221.6,207.4 224.5,208.3 227.2,209.6 C229.9,210.9 232.6,213.2 234.5,215.4 C236.4,217.6 237.4,220.0 238.8,222.7 C240.2,225.4 242.0,229.0 243.2,231.5 C244.4,234.0 246.0,235.7 246.0,237.5 C246.0,239.3 245.6,241.3 243.3,242.5 C241.0,243.7 236.1,243.8 232.4,244.7 C228.8,245.6 224.1,246.9 221.4,248.0 C218.7,249.1 218.7,250.6 216.0,251.3 C213.3,252.0 208.5,253.1 205.0,252.4 C201.5,251.7 198.2,248.0 195.0,247.0 C191.8,246.0 188.4,246.4 186.0,246.5 C183.6,246.6 183.8,247.0 180.7,247.3 C177.6,247.6 171.6,247.8 167.5,248.2 C163.4,248.6 158.5,249.9 156.1,249.5 C153.7,249.1 153.3,247.4 153.0,246.0 C152.7,244.6 152.7,242.4 154.4,241.2 C156.1,239.9 160.2,239.9 163.1,238.5 C166.0,237.1 170.3,234.8 171.9,233.0 C173.5,231.2 171.3,229.4 172.8,228.0 C174.3,226.6 178.1,225.8 180.7,224.5 C183.3,223.2 185.9,221.3 188.5,220.1 C191.1,218.8 194.1,218.0 196.4,217.0 C198.7,216.0 200.3,215.2 202.3,214.0Z" fill="#120618"/>
<path d="M133.9,232.6 C135.0,231.5 137.9,230.8 140.4,230.4 C142.9,230.0 146.8,230.2 149.2,230.4 C151.6,230.7 153.8,230.9 155.0,231.9 C156.2,232.9 157.0,235.1 156.5,236.3 C156.0,237.5 154.3,238.5 152.1,239.2 C149.9,239.9 146.1,240.6 143.4,240.7 C140.7,240.8 137.7,240.5 136.1,239.9 C134.5,239.3 134.3,238.2 133.9,237.0 C133.5,235.8 132.8,233.7 133.9,232.6Z" fill="#0c0410"/>
<path d="M252.0,283.0 C252.8,281.1 255.7,278.2 258.0,276.5 C260.3,274.8 263.5,273.4 266.0,272.5 C268.5,271.6 271.2,270.4 273.0,271.0 C274.8,271.6 276.3,273.8 276.5,276.0 C276.7,278.2 275.6,281.8 274.0,284.0 C272.4,286.2 269.5,287.8 267.0,289.0 C264.5,290.2 261.3,291.2 259.0,291.0 C256.7,290.8 254.2,289.3 253.0,288.0 C251.8,286.7 251.2,284.9 252.0,283.0Z" fill="#120814"/>
</g></g>
<g transform="matrix(0.48,0,0,0.55,-21.50,-55.5)">
<path d="M160,214 L175,213 L190,212 L203,210 L212,206" fill="none" stroke="#fff" stroke-width="6" stroke-linecap="round" opacity="0.95"/>
<path d="M150.0,281.0 C151.2,279.4 154.7,276.6 158.0,275.5 C161.3,274.4 165.8,274.2 170.0,274.5 C174.2,274.8 178.8,275.9 183.0,277.0 C187.2,278.1 192.5,279.6 195.0,281.0 C197.5,282.4 199.2,284.3 198.0,285.5 C196.8,286.7 192.3,287.6 188.0,288.0 C183.7,288.4 177.0,288.2 172.0,288.0 C167.0,287.8 161.5,287.5 158.0,287.0 C154.5,286.5 152.3,286.0 151.0,285.0 C149.7,284.0 148.8,282.6 150.0,281.0Z" fill="#fff" opacity="0.65"/>
</g>
<g filter="url(#spk2)">
<path d="M170.8,82.0 C171.0,80.8 171.6,78.8 173.0,78.0 C174.4,77.2 177.2,77.0 179.0,77.3 C180.8,77.6 182.9,78.8 184.0,79.8 C185.1,80.8 185.8,82.2 185.5,83.2 C185.2,84.2 183.6,85.2 182.0,85.8 C180.4,86.3 177.7,86.6 176.0,86.5 C174.3,86.4 172.7,86.0 171.8,85.2 C170.9,84.5 170.6,83.2 170.8,82.0Z" fill="#8a2c8c"/>
<path d="M161.5,103.5 C162.2,102.5 164.3,100.5 166.5,99.2 C168.7,97.9 171.8,96.6 174.5,95.6 C177.2,94.6 180.2,93.9 182.5,93.3 C184.8,92.7 186.9,91.8 188.0,91.8 C189.1,91.8 189.8,92.9 189.0,93.6 C188.2,94.3 185.8,95.3 183.5,96.2 C181.2,97.1 178.2,97.9 175.5,99.0 C172.8,100.1 169.7,101.6 167.5,102.6 C165.3,103.6 163.5,105.0 162.5,105.2 C161.5,105.4 160.8,104.5 161.5,103.5Z" fill="#2a0a38"/>
<g transform="matrix(0.48,0,0,0.55,131.00,-55.5)">
<path d="M140.0,252.0 C142.0,250.5 148.7,250.3 152.0,251.0 C155.3,251.7 159.0,253.8 160.0,256.0 C161.0,258.2 160.0,262.3 158.0,264.0 C156.0,265.7 151.0,266.7 148.0,266.0 C145.0,265.3 141.3,262.3 140.0,260.0 C138.7,257.7 138.0,253.5 140.0,252.0Z" fill="#1a0a1a" opacity="0.35"/>
<path d="M225.0,258.0 C227.0,257.0 235.0,260.7 240.0,262.0 C245.0,263.3 251.3,264.3 255.0,266.0 C258.7,267.7 262.0,270.3 262.0,272.0 C262.0,273.7 258.7,275.5 255.0,276.0 C251.3,276.5 244.5,276.3 240.0,275.0 C235.5,273.7 230.5,270.8 228.0,268.0 C225.5,265.2 223.0,259.0 225.0,258.0Z" fill="#1a0a1a" opacity="0.3"/>
<path d="M237.8,243.6 C239.8,242.8 245.2,244.8 248.8,245.3 C252.5,245.8 256.1,245.9 259.7,246.5 C263.3,247.1 268.5,247.9 270.7,248.8 C272.9,249.7 272.7,251.0 273.0,252.0 C273.3,253.0 273.6,253.8 272.5,255.0 C271.4,256.2 268.8,257.8 266.3,259.0 C263.8,260.2 260.2,261.8 257.6,262.2 C255.1,262.6 252.8,262.0 251.0,261.1 C249.2,260.2 248.1,258.1 246.6,256.8 C245.1,255.5 243.8,254.6 242.2,253.5 C240.6,252.4 237.7,251.7 237.0,250.0 C236.3,248.3 235.8,244.4 237.8,243.6Z" fill="#140a16"/>
<path d="M221.4,251.5 C223.1,251.8 229.1,254.5 232.4,256.0 C235.7,257.5 238.4,259.2 241.1,260.3 C243.8,261.4 246.4,261.8 248.8,262.5 C251.2,263.2 253.9,263.3 255.4,264.4 C256.9,265.4 257.8,267.3 258.0,268.8 C258.2,270.3 258.0,272.8 256.5,273.2 C255.0,273.6 251.4,272.5 248.8,271.5 C246.2,270.5 243.8,268.9 241.1,267.2 C238.4,265.5 235.6,263.6 232.4,261.5 C229.2,259.4 223.8,256.2 222.0,254.5 C220.2,252.8 219.7,251.2 221.4,251.5Z" fill="#140a16"/>
<path d="M273.0,257.5 C273.6,256.5 273.6,255.4 274.8,254.9 C276.0,254.4 278.6,254.3 280.0,254.5 C281.4,254.7 282.0,254.9 283.5,255.8 C285.0,256.7 286.9,258.7 288.8,260.1 C290.7,261.6 293.7,263.0 294.9,264.5 C296.1,266.0 296.1,267.6 295.8,268.9 C295.5,270.2 294.7,271.4 293.2,272.4 C291.7,273.4 288.3,274.1 287.0,275.0 C285.7,275.9 286.2,277.7 285.3,277.7 C284.4,277.7 283.0,275.7 281.8,275.0 C280.6,274.3 279.6,273.9 278.3,273.3 C277.0,272.7 275.2,271.9 273.9,271.5 C272.6,271.1 271.1,271.6 270.4,270.7 C269.7,269.8 269.4,267.9 269.5,266.3 C269.6,264.7 270.7,262.5 271.3,261.0 C271.9,259.5 272.4,258.5 273.0,257.5Z" fill="#100812"/>
<path d="M146.9,266.7 C148.8,264.4 150.8,263.1 152.7,262.0 C154.6,260.9 156.2,260.7 158.5,260.3 C160.8,259.9 164.0,259.4 166.7,259.7 C169.4,260.0 172.2,260.8 174.9,262.0 C177.6,263.2 180.6,264.9 183.1,266.7 C185.6,268.4 187.2,270.8 190.0,272.5 C192.8,274.2 195.9,276.1 200.0,277.2 C204.1,278.3 209.7,278.5 214.6,279.0 C219.5,279.5 225.5,279.9 229.2,280.4 C232.8,280.9 234.5,281.2 236.5,281.9 C238.5,282.6 239.1,284.0 241.0,284.5 C242.9,285.0 246.0,285.4 248.2,284.8 C250.4,284.2 252.3,282.3 254.0,281.0 C255.7,279.7 256.2,278.1 258.1,276.8 C260.0,275.5 262.9,274.2 265.1,273.3 C267.3,272.4 269.7,271.2 271.3,271.5 C272.9,271.8 274.4,273.2 274.8,275.0 C275.2,276.8 274.8,280.1 273.9,282.0 C273.0,283.9 271.0,285.5 269.5,286.4 C268.0,287.3 266.6,286.9 265.1,287.3 C263.7,287.7 261.9,287.7 260.8,289.0 C259.7,290.3 259.3,293.0 258.4,295.0 C257.5,297.0 257.0,298.7 255.5,300.9 C254.0,303.1 251.8,306.0 249.6,308.2 C247.4,310.4 244.7,312.3 242.3,314.0 C239.9,315.7 237.7,316.9 235.0,318.4 C232.3,319.9 229.2,321.6 226.3,322.8 C223.4,324.0 220.7,324.7 217.5,325.7 C214.3,326.7 210.6,328.0 207.3,328.6 C204.0,329.2 200.7,329.0 197.6,329.5 C194.5,330.0 191.9,330.9 189.0,331.5 C186.1,332.1 183.5,332.4 180.0,332.8 C176.5,333.2 171.5,333.8 168.0,334.0 C164.5,334.2 161.8,334.3 159.0,334.0 C156.2,333.7 153.3,332.9 151.0,332.0 C148.7,331.1 146.8,330.3 145.0,328.8 C143.2,327.3 141.5,325.0 140.0,323.0 C138.5,321.0 137.5,318.6 136.0,317.0 C134.5,315.4 132.5,315.2 131.0,313.4 C129.5,311.6 127.9,308.7 127.0,306.4 C126.1,304.1 125.4,301.7 125.8,299.4 C126.2,297.1 127.7,294.9 129.3,292.4 C130.9,289.9 133.2,286.9 135.2,284.2 C137.1,281.5 139.1,278.9 141.0,276.0 C142.9,273.1 145.0,269.0 146.9,266.7Z" fill="url(#gA2red)"/>
<path d="M124.4,199.5 C125.0,198.5 127.4,196.8 128.8,196.0 C130.2,195.2 131.7,194.8 133.1,194.7 C134.5,194.5 135.9,194.7 137.5,195.1 C139.1,195.5 141.1,196.3 142.8,196.9 C144.6,197.5 147.4,198.0 148.0,198.6 C148.6,199.2 147.5,199.9 146.3,200.4 C145.1,200.9 142.5,200.7 141.0,201.3 C139.5,201.9 138.7,202.6 137.5,203.9 C136.3,205.2 135.0,208.5 134.0,209.2 C133.0,209.9 132.3,209.0 131.4,208.3 C130.5,207.6 129.8,205.8 128.8,204.8 C127.8,203.8 126.0,203.1 125.3,202.2 C124.6,201.3 123.8,200.5 124.4,199.5Z" fill="#c0304e"/>
<path d="M154.2,183.8 C155.6,181.5 159.0,180.0 161.7,178.8 C164.4,177.6 167.6,177.1 170.5,176.8 C173.4,176.5 176.5,176.6 179.2,177.0 C181.9,177.4 183.9,178.3 186.5,179.5 C189.1,180.7 192.0,182.6 194.5,184.3 C197.0,186.0 199.6,187.6 201.5,189.5 C203.4,191.4 205.4,193.5 206.0,195.5 C206.6,197.5 206.1,199.8 205.0,201.4 C203.9,203.0 201.3,204.1 199.7,205.0 C198.1,205.9 196.8,206.1 195.5,207.0 C194.2,207.9 193.3,209.3 192.0,210.5 C190.7,211.7 189.6,212.8 187.7,214.0 C185.8,215.2 183.0,217.2 180.7,217.5 C178.4,217.8 176.1,216.8 174.0,216.0 C171.9,215.2 169.6,212.7 168.4,213.0 C167.2,213.3 167.2,216.5 167.0,218.0 C166.8,219.5 167.7,220.6 167.5,222.0 C167.3,223.4 167.0,225.9 165.8,226.3 C164.6,226.7 162.2,226.0 160.5,224.5 C158.8,223.0 156.8,220.1 155.3,217.5 C153.9,214.9 152.3,211.5 151.8,208.8 C151.3,206.1 152.2,204.0 152.4,201.3 C152.7,198.6 153.0,195.4 153.3,192.5 C153.6,189.6 152.8,186.1 154.2,183.8Z" fill="url(#gA2mge)"/>
<path d="M202.3,214.0 C204.3,212.8 205.5,210.7 208.2,209.6 C210.9,208.5 215.2,207.4 218.4,207.4 C221.6,207.4 224.5,208.3 227.2,209.6 C229.9,210.9 232.6,213.2 234.5,215.4 C236.4,217.6 237.4,220.0 238.8,222.7 C240.2,225.4 242.0,229.0 243.2,231.5 C244.4,234.0 246.0,235.7 246.0,237.5 C246.0,239.3 245.6,241.3 243.3,242.5 C241.0,243.7 236.1,243.8 232.4,244.7 C228.8,245.6 224.1,246.9 221.4,248.0 C218.7,249.1 218.7,250.6 216.0,251.3 C213.3,252.0 208.5,253.1 205.0,252.4 C201.5,251.7 198.2,248.0 195.0,247.0 C191.8,246.0 188.4,246.4 186.0,246.5 C183.6,246.6 183.8,247.0 180.7,247.3 C177.6,247.6 171.6,247.8 167.5,248.2 C163.4,248.6 158.5,249.9 156.1,249.5 C153.7,249.1 153.3,247.4 153.0,246.0 C152.7,244.6 152.7,242.4 154.4,241.2 C156.1,239.9 160.2,239.9 163.1,238.5 C166.0,237.1 170.3,234.8 171.9,233.0 C173.5,231.2 171.3,229.4 172.8,228.0 C174.3,226.6 178.1,225.8 180.7,224.5 C183.3,223.2 185.9,221.3 188.5,220.1 C191.1,218.8 194.1,218.0 196.4,217.0 C198.7,216.0 200.3,215.2 202.3,214.0Z" fill="url(#gA2cge)"/>
<path d="M133.9,232.6 C135.0,231.5 137.9,230.8 140.4,230.4 C142.9,230.0 146.8,230.2 149.2,230.4 C151.6,230.7 153.8,230.9 155.0,231.9 C156.2,232.9 157.0,235.1 156.5,236.3 C156.0,237.5 154.3,238.5 152.1,239.2 C149.9,239.9 146.1,240.6 143.4,240.7 C140.7,240.8 137.7,240.5 136.1,239.9 C134.5,239.3 134.3,238.2 133.9,237.0 C133.5,235.8 132.8,233.7 133.9,232.6Z" fill="#5a1458"/>
<path d="M252.0,283.0 C252.8,281.1 255.7,278.2 258.0,276.5 C260.3,274.8 263.5,273.4 266.0,272.5 C268.5,271.6 271.2,270.4 273.0,271.0 C274.8,271.6 276.3,273.8 276.5,276.0 C276.7,278.2 275.6,281.8 274.0,284.0 C272.4,286.2 269.5,287.8 267.0,289.0 C264.5,290.2 261.3,291.2 259.0,291.0 C256.7,290.8 254.2,289.3 253.0,288.0 C251.8,286.7 251.2,284.9 252.0,283.0Z" fill="#100812"/>
</g></g>
<g transform="matrix(0.48,0,0,0.55,131.00,-55.5)">
<path d="M160,214 L175,213 L190,212 L203,210 L212,206" fill="none" stroke="#fff" stroke-width="6" stroke-linecap="round" opacity="0.95"/>
<path d="M150.0,281.0 C151.2,279.4 154.7,276.6 158.0,275.5 C161.3,274.4 165.8,274.2 170.0,274.5 C174.2,274.8 178.8,275.9 183.0,277.0 C187.2,278.1 192.5,279.6 195.0,281.0 C197.5,282.4 199.2,284.3 198.0,285.5 C196.8,286.7 192.3,287.6 188.0,288.0 C183.7,288.4 177.0,288.2 172.0,288.0 C167.0,287.8 161.5,287.5 158.0,287.0 C154.5,286.5 152.3,286.0 151.0,285.0 C149.7,284.0 148.8,282.6 150.0,281.0Z" fill="#fff" opacity="0.65"/>
</g>
<text x="64.5" y="33.9" text-anchor="middle" textLength="34.8" lengthAdjust="spacingAndGlyphs" style="font-size:8.2px;font-style:italic;" fill="#231f20">SLC17A7</text>
<text x="218.0" y="33.9" text-anchor="middle" textLength="21.5" lengthAdjust="spacingAndGlyphs" style="font-size:8.2px;font-style:italic;" fill="#231f20">GAD1</text>
<rect x="127.0" y="37.7" width="2.9" height="95.7" fill="url(#gMag)"/>
<line x1="129.9" y1="133.4" x2="131.4" y2="133.4" stroke="#333" stroke-width="0.6"/>
<text x="135.9" y="136.4" style="font-size:8.4px;" fill="#231f20">0</text>
<line x1="129.9" y1="116.9" x2="131.4" y2="116.9" stroke="#333" stroke-width="0.6"/>
<text x="135.9" y="119.9" style="font-size:8.4px;" fill="#231f20">0.5</text>
<line x1="129.9" y1="100.4" x2="131.4" y2="100.4" stroke="#333" stroke-width="0.6"/>
<text x="135.9" y="103.4" style="font-size:8.4px;" fill="#231f20">1.0</text>
<line x1="129.9" y1="83.9" x2="131.4" y2="83.9" stroke="#333" stroke-width="0.6"/>
<text x="135.9" y="86.9" style="font-size:8.4px;" fill="#231f20">1.5</text>
<line x1="129.9" y1="67.4" x2="131.4" y2="67.4" stroke="#333" stroke-width="0.6"/>
<text x="135.9" y="70.4" style="font-size:8.4px;" fill="#231f20">2.0</text>
<line x1="129.9" y1="50.89999999999999" x2="131.4" y2="50.89999999999999" stroke="#333" stroke-width="0.6"/>
<text x="135.9" y="53.89999999999999" style="font-size:8.4px;" fill="#231f20">2.5</text>
<text x="153.5" y="85.9" text-anchor="middle" transform="rotate(90 153.5 85.9)" textLength="71.8" lengthAdjust="spacingAndGlyphs" style="font-size:9.0px;" fill="#231f20">log1p(expression)</text>
<rect x="279.7" y="37.7" width="2.9" height="95.7" fill="url(#gMag)"/>
<line x1="282.59999999999997" y1="133.4" x2="284.09999999999997" y2="133.4" stroke="#333" stroke-width="0.6"/>
<text x="289.3" y="136.4" style="font-size:8.4px;" fill="#231f20">0</text>
<line x1="282.59999999999997" y1="120.64" x2="284.09999999999997" y2="120.64" stroke="#333" stroke-width="0.6"/>
<text x="289.3" y="123.64" style="font-size:8.4px;" fill="#231f20">0.5</text>
<line x1="282.59999999999997" y1="107.88000000000001" x2="284.09999999999997" y2="107.88000000000001" stroke="#333" stroke-width="0.6"/>
<text x="289.3" y="110.88000000000001" style="font-size:8.4px;" fill="#231f20">1.0</text>
<line x1="282.59999999999997" y1="95.12" x2="284.09999999999997" y2="95.12" stroke="#333" stroke-width="0.6"/>
<text x="289.3" y="98.12" style="font-size:8.4px;" fill="#231f20">1.5</text>
<line x1="282.59999999999997" y1="82.36000000000001" x2="284.09999999999997" y2="82.36000000000001" stroke="#333" stroke-width="0.6"/>
<text x="289.3" y="85.36000000000001" style="font-size:8.4px;" fill="#231f20">2.0</text>
<line x1="282.59999999999997" y1="69.60000000000001" x2="284.09999999999997" y2="69.60000000000001" stroke="#333" stroke-width="0.6"/>
<text x="289.3" y="72.60000000000001" style="font-size:8.4px;" fill="#231f20">2.5</text>
<line x1="282.59999999999997" y1="56.84" x2="284.09999999999997" y2="56.84" stroke="#333" stroke-width="0.6"/>
<text x="289.3" y="59.84" style="font-size:8.4px;" fill="#231f20">3.0</text>
<line x1="282.59999999999997" y1="44.08" x2="284.09999999999997" y2="44.08" stroke="#333" stroke-width="0.6"/>
<text x="289.3" y="47.08" style="font-size:8.4px;" fill="#231f20">3.5</text>
<text x="308.1" y="85.9" text-anchor="middle" transform="rotate(90 308.1 85.9)" textLength="71.8" lengthAdjust="spacingAndGlyphs" style="font-size:9.0px;" fill="#231f20">log1p(expression)</text>
<rect x="16.4" y="195.3" width="5.4" height="101.5" fill="url(#gExcV)" stroke="#777" stroke-width="0.4"/>
<line x1="21.799999999999997" y1="296.8" x2="23.299999999999997" y2="296.8" stroke="#333" stroke-width="0.6"/>
<text x="27.0" y="299.90000000000003" style="font-size:8.6px;" fill="#231f20">0</text>
<line x1="21.799999999999997" y1="276.5" x2="23.299999999999997" y2="276.5" stroke="#333" stroke-width="0.6"/>
<text x="27.0" y="279.6" style="font-size:8.6px;" fill="#231f20">0.2</text>
<line x1="21.799999999999997" y1="256.2" x2="23.299999999999997" y2="256.2" stroke="#333" stroke-width="0.6"/>
<text x="27.0" y="259.3" style="font-size:8.6px;" fill="#231f20">0.4</text>
<line x1="21.799999999999997" y1="235.9" x2="23.299999999999997" y2="235.9" stroke="#333" stroke-width="0.6"/>
<text x="27.0" y="239.0" style="font-size:8.6px;" fill="#231f20">0.6</text>
<line x1="21.799999999999997" y1="215.60000000000002" x2="23.299999999999997" y2="215.60000000000002" stroke="#333" stroke-width="0.6"/>
<text x="27.0" y="218.70000000000002" style="font-size:8.6px;" fill="#231f20">0.8</text>
<line x1="21.799999999999997" y1="195.3" x2="23.299999999999997" y2="195.3" stroke="#333" stroke-width="0.6"/>
<text x="27.0" y="198.4" style="font-size:8.6px;" fill="#231f20">1.0</text>
<text x="44.0" y="246.2" text-anchor="middle" transform="rotate(90 44.0 246.2)" textLength="89.6" lengthAdjust="spacingAndGlyphs" style="font-size:9.1px;" fill="#231f20">Excitatory pseudotime</text>
<rect x="61.7" y="195.3" width="5.4" height="101.5" fill="url(#gInhV)" stroke="#777" stroke-width="0.4"/>
<line x1="67.10000000000001" y1="296.8" x2="68.60000000000001" y2="296.8" stroke="#333" stroke-width="0.6"/>
<text x="72.5" y="299.90000000000003" style="font-size:8.6px;" fill="#231f20">0</text>
<line x1="67.10000000000001" y1="276.5" x2="68.60000000000001" y2="276.5" stroke="#333" stroke-width="0.6"/>
<text x="72.5" y="279.6" style="font-size:8.6px;" fill="#231f20">0.2</text>
<line x1="67.10000000000001" y1="256.2" x2="68.60000000000001" y2="256.2" stroke="#333" stroke-width="0.6"/>
<text x="72.5" y="259.3" style="font-size:8.6px;" fill="#231f20">0.4</text>
<line x1="67.10000000000001" y1="235.9" x2="68.60000000000001" y2="235.9" stroke="#333" stroke-width="0.6"/>
<text x="72.5" y="239.0" style="font-size:8.6px;" fill="#231f20">0.6</text>
<line x1="67.10000000000001" y1="215.60000000000002" x2="68.60000000000001" y2="215.60000000000002" stroke="#333" stroke-width="0.6"/>
<text x="72.5" y="218.70000000000002" style="font-size:8.6px;" fill="#231f20">0.8</text>
<line x1="67.10000000000001" y1="195.3" x2="68.60000000000001" y2="195.3" stroke="#333" stroke-width="0.6"/>
<text x="72.5" y="198.4" style="font-size:8.6px;" fill="#231f20">1.0</text>
<text x="89.3" y="246.2" text-anchor="middle" transform="rotate(90 89.3 246.2)" textLength="88.6" lengthAdjust="spacingAndGlyphs" style="font-size:9.1px;" fill="#231f20">Inhibitory pseudotime</text>
<g filter="url(#spk)">
<path d="M237.8,243.6 C239.8,242.8 245.2,244.8 248.8,245.3 C252.5,245.8 256.1,245.9 259.7,246.5 C263.3,247.1 268.5,247.9 270.7,248.8 C272.9,249.7 272.7,251.0 273.0,252.0 C273.3,253.0 273.6,253.8 272.5,255.0 C271.4,256.2 268.8,257.8 266.3,259.0 C263.8,260.2 260.2,261.8 257.6,262.2 C255.1,262.6 252.8,262.0 251.0,261.1 C249.2,260.2 248.1,258.1 246.6,256.8 C245.1,255.5 243.8,254.6 242.2,253.5 C240.6,252.4 237.7,251.7 237.0,250.0 C236.3,248.3 235.8,244.4 237.8,243.6Z" fill="url(#gTail)"/>
<path d="M221.4,251.5 C223.1,251.8 229.1,254.5 232.4,256.0 C235.7,257.5 238.4,259.2 241.1,260.3 C243.8,261.4 246.4,261.8 248.8,262.5 C251.2,263.2 253.9,263.3 255.4,264.4 C256.9,265.4 257.8,267.3 258.0,268.8 C258.2,270.3 258.0,272.8 256.5,273.2 C255.0,273.6 251.4,272.5 248.8,271.5 C246.2,270.5 243.8,268.9 241.1,267.2 C238.4,265.5 235.6,263.6 232.4,261.5 C229.2,259.4 223.8,256.2 222.0,254.5 C220.2,252.8 219.7,251.2 221.4,251.5Z" fill="url(#gTail2)"/>
<path d="M273.0,257.5 C273.6,256.5 273.6,255.4 274.8,254.9 C276.0,254.4 278.6,254.3 280.0,254.5 C281.4,254.7 282.0,254.9 283.5,255.8 C285.0,256.7 286.9,258.7 288.8,260.1 C290.7,261.6 293.7,263.0 294.9,264.5 C296.1,266.0 296.1,267.6 295.8,268.9 C295.5,270.2 294.7,271.4 293.2,272.4 C291.7,273.4 288.3,274.1 287.0,275.0 C285.7,275.9 286.2,277.7 285.3,277.7 C284.4,277.7 283.0,275.7 281.8,275.0 C280.6,274.3 279.6,273.9 278.3,273.3 C277.0,272.7 275.2,271.9 273.9,271.5 C272.6,271.1 271.1,271.6 270.4,270.7 C269.7,269.8 269.4,267.9 269.5,266.3 C269.6,264.7 270.7,262.5 271.3,261.0 C271.9,259.5 272.4,258.5 273.0,257.5Z" fill="url(#gRG)"/>
<path d="M146.9,266.7 C148.8,264.4 150.8,263.1 152.7,262.0 C154.6,260.9 156.2,260.7 158.5,260.3 C160.8,259.9 164.0,259.4 166.7,259.7 C169.4,260.0 172.2,260.8 174.9,262.0 C177.6,263.2 180.6,264.9 183.1,266.7 C185.6,268.4 187.2,270.8 190.0,272.5 C192.8,274.2 195.9,276.1 200.0,277.2 C204.1,278.3 209.7,278.5 214.6,279.0 C219.5,279.5 225.5,279.9 229.2,280.4 C232.8,280.9 234.5,281.2 236.5,281.9 C238.5,282.6 239.1,284.0 241.0,284.5 C242.9,285.0 246.0,285.4 248.2,284.8 C250.4,284.2 252.3,282.3 254.0,281.0 C255.7,279.7 256.2,278.1 258.1,276.8 C260.0,275.5 262.9,274.2 265.1,273.3 C267.3,272.4 269.7,271.2 271.3,271.5 C272.9,271.8 274.4,273.2 274.8,275.0 C275.2,276.8 274.8,280.1 273.9,282.0 C273.0,283.9 271.0,285.5 269.5,286.4 C268.0,287.3 266.6,286.9 265.1,287.3 C263.7,287.7 261.9,287.7 260.8,289.0 C259.7,290.3 259.3,293.0 258.4,295.0 C257.5,297.0 257.0,298.7 255.5,300.9 C254.0,303.1 251.8,306.0 249.6,308.2 C247.4,310.4 244.7,312.3 242.3,314.0 C239.9,315.7 237.7,316.9 235.0,318.4 C232.3,319.9 229.2,321.6 226.3,322.8 C223.4,324.0 220.7,324.7 217.5,325.7 C214.3,326.7 210.6,328.0 207.3,328.6 C204.0,329.2 200.7,329.0 197.6,329.5 C194.5,330.0 191.9,330.9 189.0,331.5 C186.1,332.1 183.5,332.4 180.0,332.8 C176.5,333.2 171.5,333.8 168.0,334.0 C164.5,334.2 161.8,334.3 159.0,334.0 C156.2,333.7 153.3,332.9 151.0,332.0 C148.7,331.1 146.8,330.3 145.0,328.8 C143.2,327.3 141.5,325.0 140.0,323.0 C138.5,321.0 137.5,318.6 136.0,317.0 C134.5,315.4 132.5,315.2 131.0,313.4 C129.5,311.6 127.9,308.7 127.0,306.4 C126.1,304.1 125.4,301.7 125.8,299.4 C126.2,297.1 127.7,294.9 129.3,292.4 C130.9,289.9 133.2,286.9 135.2,284.2 C137.1,281.5 139.1,278.9 141.0,276.0 C142.9,273.1 145.0,269.0 146.9,266.7Z" fill="url(#gRed)"/>
<path d="M124.4,199.5 C125.0,198.5 127.4,196.8 128.8,196.0 C130.2,195.2 131.7,194.8 133.1,194.7 C134.5,194.5 135.9,194.7 137.5,195.1 C139.1,195.5 141.1,196.3 142.8,196.9 C144.6,197.5 147.4,198.0 148.0,198.6 C148.6,199.2 147.5,199.9 146.3,200.4 C145.1,200.9 142.5,200.7 141.0,201.3 C139.5,201.9 138.7,202.6 137.5,203.9 C136.3,205.2 135.0,208.5 134.0,209.2 C133.0,209.9 132.3,209.0 131.4,208.3 C130.5,207.6 129.8,205.8 128.8,204.8 C127.8,203.8 126.0,203.1 125.3,202.2 C124.6,201.3 123.8,200.5 124.4,199.5Z" fill="#1d2d8c"/>
<path d="M154.2,183.8 C155.6,181.5 159.0,180.0 161.7,178.8 C164.4,177.6 167.6,177.1 170.5,176.8 C173.4,176.5 176.5,176.6 179.2,177.0 C181.9,177.4 183.9,178.3 186.5,179.5 C189.1,180.7 192.0,182.6 194.5,184.3 C197.0,186.0 199.6,187.6 201.5,189.5 C203.4,191.4 205.4,193.5 206.0,195.5 C206.6,197.5 206.1,199.8 205.0,201.4 C203.9,203.0 201.3,204.1 199.7,205.0 C198.1,205.9 196.8,206.1 195.5,207.0 C194.2,207.9 193.3,209.3 192.0,210.5 C190.7,211.7 189.6,212.8 187.7,214.0 C185.8,215.2 183.0,217.2 180.7,217.5 C178.4,217.8 176.1,216.8 174.0,216.0 C171.9,215.2 169.6,212.7 168.4,213.0 C167.2,213.3 167.2,216.5 167.0,218.0 C166.8,219.5 167.7,220.6 167.5,222.0 C167.3,223.4 167.0,225.9 165.8,226.3 C164.6,226.7 162.2,226.0 160.5,224.5 C158.8,223.0 156.8,220.1 155.3,217.5 C153.9,214.9 152.3,211.5 151.8,208.8 C151.3,206.1 152.2,204.0 152.4,201.3 C152.7,198.6 153.0,195.4 153.3,192.5 C153.6,189.6 152.8,186.1 154.2,183.8Z" fill="#1f3096"/>
<path d="M202.3,214.0 C204.3,212.8 205.5,210.7 208.2,209.6 C210.9,208.5 215.2,207.4 218.4,207.4 C221.6,207.4 224.5,208.3 227.2,209.6 C229.9,210.9 232.6,213.2 234.5,215.4 C236.4,217.6 237.4,220.0 238.8,222.7 C240.2,225.4 242.0,229.0 243.2,231.5 C244.4,234.0 246.0,235.7 246.0,237.5 C246.0,239.3 245.6,241.3 243.3,242.5 C241.0,243.7 236.1,243.8 232.4,244.7 C228.8,245.6 224.1,246.9 221.4,248.0 C218.7,249.1 218.7,250.6 216.0,251.3 C213.3,252.0 208.5,253.1 205.0,252.4 C201.5,251.7 198.2,248.0 195.0,247.0 C191.8,246.0 188.4,246.4 186.0,246.5 C183.6,246.6 183.8,247.0 180.7,247.3 C177.6,247.6 171.6,247.8 167.5,248.2 C163.4,248.6 158.5,249.9 156.1,249.5 C153.7,249.1 153.3,247.4 153.0,246.0 C152.7,244.6 152.7,242.4 154.4,241.2 C156.1,239.9 160.2,239.9 163.1,238.5 C166.0,237.1 170.3,234.8 171.9,233.0 C173.5,231.2 171.3,229.4 172.8,228.0 C174.3,226.6 178.1,225.8 180.7,224.5 C183.3,223.2 185.9,221.3 188.5,220.1 C191.1,218.8 194.1,218.0 196.4,217.0 C198.7,216.0 200.3,215.2 202.3,214.0Z" fill="#1f3096"/>
<path d="M133.9,232.6 C135.0,231.5 137.9,230.8 140.4,230.4 C142.9,230.0 146.8,230.2 149.2,230.4 C151.6,230.7 153.8,230.9 155.0,231.9 C156.2,232.9 157.0,235.1 156.5,236.3 C156.0,237.5 154.3,238.5 152.1,239.2 C149.9,239.9 146.1,240.6 143.4,240.7 C140.7,240.8 137.7,240.5 136.1,239.9 C134.5,239.3 134.3,238.2 133.9,237.0 C133.5,235.8 132.8,233.7 133.9,232.6Z" fill="#18267e"/>
</g>
<path d="M158.0,194.0 C160.2,193.8 165.5,196.9 170.0,198.5 C174.5,200.1 180.3,202.0 185.0,203.5 C189.7,205.0 196.3,206.3 198.0,207.5 C199.7,208.7 197.7,210.5 195.0,210.5 C192.3,210.5 186.5,208.7 182.0,207.5 C177.5,206.3 172.2,204.8 168.0,203.5 C163.8,202.2 158.7,201.1 157.0,199.5 C155.3,197.9 155.8,194.2 158.0,194.0Z" fill="#fff" opacity="0.2"/>
<path d="M183.0,233.0 C184.0,232.1 188.2,231.7 190.0,232.0 C191.8,232.3 194.0,233.9 194.0,235.0 C194.0,236.1 191.7,238.1 190.0,238.5 C188.3,238.9 185.2,238.4 184.0,237.5 C182.8,236.6 182.0,233.9 183.0,233.0Z" fill="#fff" opacity="0.45"/>
<path d="M146.0,283.0 C146.0,280.7 149.7,277.8 152.0,276.0 C154.3,274.2 157.0,272.5 160.0,272.0 C163.0,271.5 166.7,272.3 170.0,273.0 C173.3,273.7 176.7,274.7 180.0,276.0 C183.3,277.3 185.8,279.8 190.0,281.0 C194.2,282.2 199.7,282.5 205.0,283.0 C210.3,283.5 216.8,283.5 222.0,284.0 C227.2,284.5 233.0,285.0 236.0,286.0 C239.0,287.0 241.0,288.8 240.0,290.0 C239.0,291.2 234.7,292.7 230.0,293.0 C225.3,293.3 217.8,292.3 212.0,292.0 C206.2,291.7 200.3,290.8 195.0,291.0 C189.7,291.2 185.0,292.7 180.0,293.0 C175.0,293.3 169.7,293.5 165.0,293.0 C160.3,292.5 155.2,291.7 152.0,290.0 C148.8,288.3 146.0,285.3 146.0,283.0Z" fill="#fff" opacity="0.38"/>
<path d="M160.0,276.0 C161.0,274.7 165.3,274.7 168.0,275.0 C170.7,275.3 174.3,276.5 176.0,278.0 C177.7,279.5 179.0,282.7 178.0,284.0 C177.0,285.3 172.7,286.2 170.0,286.0 C167.3,285.8 163.7,284.7 162.0,283.0 C160.3,281.3 159.0,277.3 160.0,276.0Z" fill="#fff" opacity="0.3"/>
<path d="M128.0,303.0 C128.2,300.7 132.0,299.2 134.0,299.0 C136.0,298.8 138.3,300.2 140.0,302.0 C141.7,303.8 144.0,307.7 144.0,310.0 C144.0,312.3 141.8,315.5 140.0,316.0 C138.2,316.5 135.0,315.2 133.0,313.0 C131.0,310.8 127.8,305.3 128.0,303.0Z" fill="#fff" opacity="0.35"/>
<path d="M123.8,197.7 C124.8,195.6 127.4,192.9 129.6,191.2 C131.8,189.5 134.5,188.6 136.9,187.5 C139.3,186.4 141.5,185.6 144.2,184.6 C146.9,183.6 150.1,182.8 153.0,181.7 C155.9,180.6 158.8,179.0 161.7,178.0 C164.6,177.0 167.6,176.4 170.5,175.8 C173.4,175.2 176.3,174.4 179.2,174.4 C182.1,174.4 185.1,174.8 188.0,175.8 C190.9,176.8 193.9,178.5 196.8,180.2 C199.7,181.9 202.6,184.1 205.5,186.1 C208.4,188.1 211.6,189.8 214.3,191.9 C217.1,194.1 219.4,196.7 222.0,199.0 C224.6,201.3 227.3,204.0 230.0,206.0 C232.7,208.0 235.8,209.0 238.0,211.0 C240.2,213.0 241.6,215.7 243.0,218.0 C244.4,220.3 245.3,222.4 246.6,225.0 C247.9,227.6 249.3,231.8 251.0,233.8 C252.7,235.8 254.3,235.9 256.5,237.0 C258.7,238.1 261.7,239.0 264.1,240.3 C266.5,241.6 269.1,243.2 270.7,244.7 C272.2,246.2 273.0,247.4 273.4,249.1 C273.8,250.8 273.5,252.8 272.9,254.6 C272.3,256.4 270.9,258.0 269.6,260.0 C268.3,262.0 266.7,264.6 265.2,266.6 C263.7,268.6 262.6,270.7 260.8,272.1 C259.0,273.5 256.7,274.3 254.3,274.8 C251.9,275.3 249.0,275.4 246.6,275.1 C244.2,274.8 242.0,274.4 240.0,273.2 C238.0,272.0 236.8,269.5 234.6,267.7 C232.4,265.9 229.7,263.7 226.9,262.2 C224.2,260.7 221.0,259.8 218.1,258.9 C215.2,258.0 212.4,257.4 209.4,256.8 C206.4,256.2 202.7,256.2 200.0,255.5 C197.3,254.8 196.1,253.1 193.0,252.3 C189.9,251.5 185.0,251.1 181.3,250.9 C177.7,250.7 174.5,250.8 171.1,250.9 C167.7,251.0 164.1,251.6 160.9,251.6 C157.7,251.6 155.0,251.8 152.1,250.9 C149.2,250.1 146.1,248.1 143.4,246.5 C140.7,244.9 137.8,242.9 136.1,241.4 C134.4,239.9 134.0,239.3 133.1,237.7 C132.2,236.1 131.1,234.0 130.5,231.9 C129.9,229.8 129.9,227.2 129.6,225.0 C129.3,222.8 129.3,221.2 128.8,218.8 C128.3,216.5 127.5,213.4 126.7,210.9 C125.9,208.4 124.3,205.8 123.8,203.6 C123.3,201.4 122.8,199.8 123.8,197.7Z" fill="none" stroke="#2f87cc" stroke-width="1.45" stroke-dasharray="2.4 1.7"/>
<path d="M155.0,259.7 C157.9,258.1 161.5,257.2 164.4,256.8 C167.3,256.4 169.7,256.6 172.6,257.3 C175.5,258.0 179.0,259.2 181.9,260.8 C184.8,262.4 187.0,264.8 190.0,266.7 C193.0,268.6 195.9,271.1 200.0,272.5 C204.1,273.9 209.7,274.7 214.6,275.3 C219.5,275.9 225.3,276.0 229.2,276.1 C233.1,276.2 235.2,275.9 237.8,275.9 C240.4,275.9 242.8,276.2 245.0,275.9 C247.2,275.6 249.5,274.4 251.0,274.3 C252.5,274.2 252.6,275.5 253.8,275.0 C255.0,274.5 256.4,273.1 258.1,271.5 C259.9,269.9 262.6,267.3 264.3,265.4 C266.1,263.5 267.2,261.9 268.6,260.1 C270.1,258.4 272.0,256.4 273.0,254.9 C274.0,253.4 273.6,252.4 274.8,251.4 C276.0,250.4 278.2,249.2 280.0,248.8 C281.8,248.4 283.2,248.4 285.3,248.8 C287.4,249.2 290.4,250.2 292.3,251.4 C294.2,252.6 295.7,254.1 296.7,255.8 C297.7,257.6 298.1,259.7 298.4,261.9 C298.7,264.1 298.8,266.8 298.4,268.9 C298.0,270.9 297.1,272.6 295.8,274.2 C294.5,275.8 292.4,277.3 290.5,278.5 C288.6,279.7 286.4,280.3 284.4,281.2 C282.4,282.1 280.2,282.8 278.3,283.8 C276.4,284.8 274.8,286.0 273.0,287.3 C271.2,288.6 269.6,290.2 267.8,291.7 C266.1,293.2 263.8,294.7 262.5,296.1 C261.2,297.5 261.1,298.2 259.9,300.0 C258.7,301.8 257.4,304.4 255.5,306.7 C253.6,309.0 250.9,311.8 248.2,314.0 C245.5,316.2 242.6,318.2 239.4,319.9 C236.2,321.6 232.8,322.8 229.2,324.2 C225.5,325.6 221.2,327.2 217.5,328.6 C213.8,330.0 211.1,331.3 207.3,332.5 C203.6,333.7 199.6,335.0 195.0,336.0 C190.4,337.0 185.0,338.1 180.0,338.5 C175.0,338.9 169.1,338.6 165.0,338.5 C160.9,338.4 159.4,338.6 155.5,337.6 C151.6,336.6 145.3,334.6 141.5,332.3 C137.7,330.0 134.8,326.3 132.8,323.6 C130.8,320.9 130.8,318.1 129.3,316.0 C127.8,313.9 125.5,312.7 124.0,311.0 C122.5,309.3 121.0,307.8 120.5,306.0 C120.0,304.2 120.3,302.1 121.0,300.0 C121.7,297.9 122.9,296.1 124.7,293.5 C126.5,290.9 129.2,287.3 131.7,284.2 C134.2,281.1 137.4,277.8 139.9,274.9 C142.4,272.0 144.4,269.2 146.9,266.7 C149.4,264.2 152.1,261.3 155.0,259.7Z" fill="none" stroke="#ec3139" stroke-width="1.45" stroke-dasharray="2.4 1.7"/>
<text x="178.6" y="192.9" text-anchor="middle" textLength="17.8" lengthAdjust="spacingAndGlyphs" style="font-size:8.9px;" fill="#eef0f8">MGE</text>
<text x="222.25" y="231.1" text-anchor="middle" textLength="16.9" lengthAdjust="spacingAndGlyphs" style="font-size:8.9px;" fill="#eef0f8">CGE</text>
<text x="143.8" y="230.0" text-anchor="middle" textLength="16.0" lengthAdjust="spacingAndGlyphs" style="font-size:8.9px;" fill="#222">LGE</text>
<text x="289.4" y="264.8" text-anchor="middle" textLength="10.9" lengthAdjust="spacingAndGlyphs" style="font-size:8.9px;" fill="#222">RG</text>
<text x="274.6" y="214.1" text-anchor="middle" textLength="43.8" lengthAdjust="spacingAndGlyphs" style="font-size:9.1px;" fill="#3b8fc7">GABAergic</text>
<text x="263.3" y="311.1" textLength="56.5" lengthAdjust="spacingAndGlyphs" style="font-size:9.1px;" fill="#a34452">Glutamatergic</text>
<text x="165.2" y="291.7" text-anchor="middle" textLength="45.6" lengthAdjust="spacingAndGlyphs" style="font-size:9.1px;" fill="#f2d8d8">Upper layer</text>
<text x="177.4" y="312.2" textLength="53.3" lengthAdjust="spacingAndGlyphs" style="font-size:9.1px;" fill="#f2d8d8">Deep layer or</text>
<text x="177.4" y="321.4" style="font-size:9.1px;" fill="#f2d8d8">subplate</text>
<line x1="115.4" y1="348.1" x2="115.4" y2="319.5" stroke="#222" stroke-width="0.9"/>
<line x1="115.4" y1="348.1" x2="144.0" y2="348.1" stroke="#222" stroke-width="0.9"/>
<path d="M115.4,316.2 L113.6,320.6 L117.2,320.6Z" fill="#222"/>
<path d="M147.2,348.1 L142.8,346.3 L142.8,349.9Z" fill="#222"/>
<text x="109.6" y="335.3" text-anchor="middle" transform="rotate(-90 109.6 335.3)" textLength="28.6" lengthAdjust="spacingAndGlyphs" style="font-size:8.2px;" fill="#231f20">UMAP2</text>
<text x="129.0" y="360.6" text-anchor="middle" textLength="26.5" lengthAdjust="spacingAndGlyphs" style="font-size:8.2px;" fill="#231f20">UMAP1</text>
<rect x="408.0" y="18.21" width="118.6" height="6.43" fill="url(#h1)"/>
<rect x="550.0" y="18.21" width="118.4" height="6.43" fill="url(#h2)"/>
<text x="403.6" y="23.6" text-anchor="end" style="font-size:6.15px;font-style:italic;" fill="#333">SOX2</text>
<line x1="405.3" y1="21.400000000000002" x2="407.4" y2="21.400000000000002" stroke="#333" stroke-width="0.6"/>
<rect x="408.0" y="24.59" width="118.6" height="6.43" fill="url(#h3)"/>
<rect x="550.0" y="24.59" width="118.4" height="6.43" fill="url(#h4)"/>
<text x="403.6" y="29.98" text-anchor="end" style="font-size:6.15px;font-style:italic;" fill="#333">PAX6</text>
<line x1="405.3" y1="27.78" x2="407.4" y2="27.78" stroke="#333" stroke-width="0.6"/>
<rect x="408.0" y="30.97" width="118.6" height="6.43" fill="url(#h5)"/>
<rect x="550.0" y="30.97" width="118.4" height="6.43" fill="url(#h6)"/>
<text x="403.6" y="36.36" text-anchor="end" style="font-size:6.15px;font-style:italic;" fill="#333">SATB2</text>
<line x1="405.3" y1="34.16" x2="407.4" y2="34.16" stroke="#333" stroke-width="0.6"/>
<rect x="408.0" y="37.35" width="118.6" height="6.43" fill="url(#h7)"/>
<rect x="550.0" y="37.35" width="118.4" height="6.43" fill="url(#h8)"/>
<text x="403.6" y="42.74" text-anchor="end" style="font-size:6.15px;font-style:italic;" fill="#333">EOMES</text>
<line x1="405.3" y1="40.54" x2="407.4" y2="40.54" stroke="#333" stroke-width="0.6"/>
<rect x="408.0" y="43.73" width="118.6" height="6.43" fill="url(#h9)"/>
<rect x="550.0" y="43.73" width="118.4" height="6.43" fill="url(#h10)"/>
<text x="403.6" y="49.120000000000005" text-anchor="end" style="font-size:6.15px;font-style:italic;" fill="#333">GAD1</text>
<line x1="405.3" y1="46.92" x2="407.4" y2="46.92" stroke="#333" stroke-width="0.6"/>
<rect x="408.0" y="50.11" width="118.6" height="6.43" fill="url(#h11)"/>
<rect x="550.0" y="50.11" width="118.4" height="6.43" fill="url(#h12)"/>
<text x="403.6" y="55.5" text-anchor="end" style="font-size:6.15px;font-style:italic;" fill="#333">AASS</text>
<line x1="405.3" y1="53.3" x2="407.4" y2="53.3" stroke="#333" stroke-width="0.6"/>
<rect x="408.0" y="56.49" width="118.6" height="6.43" fill="url(#h13)"/>
<rect x="550.0" y="56.49" width="118.4" height="6.43" fill="url(#h14)"/>
<text x="403.6" y="61.88" text-anchor="end" style="font-size:6.15px;font-style:italic;" fill="#333">CACNB4</text>
<line x1="405.3" y1="59.68" x2="407.4" y2="59.68" stroke="#333" stroke-width="0.6"/>
<rect x="408.0" y="62.87" width="118.6" height="6.43" fill="url(#h15)"/>
<rect x="550.0" y="62.87" width="118.4" height="6.43" fill="url(#h16)"/>
<text x="403.6" y="68.26" text-anchor="end" style="font-size:6.15px;font-style:italic;" fill="#333">DRD2</text>
<line x1="405.3" y1="66.06" x2="407.4" y2="66.06" stroke="#333" stroke-width="0.6"/>
<rect x="408.0" y="69.25" width="118.6" height="6.43" fill="url(#h17)"/>
<rect x="550.0" y="69.25" width="118.4" height="6.43" fill="url(#h18)"/>
<text x="403.6" y="74.64" text-anchor="end" style="font-size:6.15px;font-style:italic;" fill="#333">NHLH1</text>
<line x1="405.3" y1="72.44" x2="407.4" y2="72.44" stroke="#333" stroke-width="0.6"/>
<rect x="408.0" y="75.63" width="118.6" height="6.43" fill="url(#h19)"/>
<rect x="550.0" y="75.63" width="118.4" height="6.43" fill="url(#h20)"/>
<text x="403.6" y="81.02" text-anchor="end" style="font-size:6.15px;font-style:italic;" fill="#333">NEUROD4</text>
<line x1="405.3" y1="78.82" x2="407.4" y2="78.82" stroke="#333" stroke-width="0.6"/>
<rect x="408.0" y="82.01" width="118.6" height="6.43" fill="url(#h21)"/>
<rect x="550.0" y="82.01" width="118.4" height="6.43" fill="url(#h22)"/>
<text x="403.6" y="87.39999999999999" text-anchor="end" style="font-size:6.15px;font-style:italic;" fill="#333">ABAT</text>
<line x1="405.3" y1="85.19999999999999" x2="407.4" y2="85.19999999999999" stroke="#333" stroke-width="0.6"/>
<rect x="408.0" y="88.39" width="118.6" height="6.43" fill="url(#h23)"/>
<rect x="550.0" y="88.39" width="118.4" height="6.43" fill="url(#h24)"/>
<text x="403.6" y="93.77999999999999" text-anchor="end" style="font-size:6.15px;font-style:italic;" fill="#333">CRABP1</text>
<line x1="405.3" y1="91.57999999999998" x2="407.4" y2="91.57999999999998" stroke="#333" stroke-width="0.6"/>
<rect x="408.0" y="94.77" width="118.6" height="6.43" fill="url(#h25)"/>
<rect x="550.0" y="94.77" width="118.4" height="6.43" fill="url(#h26)"/>
<text x="403.6" y="100.16000000000001" text-anchor="end" style="font-size:6.15px;font-style:italic;" fill="#333">GALNTL6</text>
<line x1="405.3" y1="97.96000000000001" x2="407.4" y2="97.96000000000001" stroke="#333" stroke-width="0.6"/>
<rect x="408.0" y="101.15" width="118.6" height="6.43" fill="url(#h27)"/>
<rect x="550.0" y="101.15" width="118.4" height="6.43" fill="url(#h28)"/>
<text x="403.6" y="106.54" text-anchor="end" style="font-size:6.15px;font-style:italic;" fill="#333">PROKR2</text>
<line x1="405.3" y1="104.34" x2="407.4" y2="104.34" stroke="#333" stroke-width="0.6"/>
<rect x="408.0" y="107.53" width="118.6" height="6.43" fill="url(#h29)"/>
<rect x="550.0" y="107.53" width="118.4" height="6.43" fill="url(#h30)"/>
<text x="403.6" y="112.92" text-anchor="end" style="font-size:6.15px;font-style:italic;" fill="#333">SIX3</text>
<line x1="405.3" y1="110.72" x2="407.4" y2="110.72" stroke="#333" stroke-width="0.6"/>
<rect x="408.0" y="113.91" width="118.6" height="6.43" fill="url(#h31)"/>
<rect x="550.0" y="113.91" width="118.4" height="6.43" fill="url(#h32)"/>
<text x="403.6" y="119.3" text-anchor="end" style="font-size:6.15px;font-style:italic;" fill="#333">RXRG</text>
<line x1="405.3" y1="117.1" x2="407.4" y2="117.1" stroke="#333" stroke-width="0.6"/>
<rect x="408.0" y="120.29" width="118.6" height="6.43" fill="url(#h33)"/>
<rect x="550.0" y="120.29" width="118.4" height="6.43" fill="url(#h34)"/>
<text x="403.6" y="125.67999999999999" text-anchor="end" style="font-size:6.15px;font-style:italic;" fill="#333">SST</text>
<line x1="405.3" y1="123.47999999999999" x2="407.4" y2="123.47999999999999" stroke="#333" stroke-width="0.6"/>
<rect x="408.0" y="126.67" width="118.6" height="6.43" fill="url(#h35)"/>
<rect x="550.0" y="126.67" width="118.4" height="6.43" fill="url(#h36)"/>
<text x="403.6" y="132.05999999999997" text-anchor="end" style="font-size:6.15px;font-style:italic;" fill="#333">NKX2-1</text>
<line x1="405.3" y1="129.85999999999999" x2="407.4" y2="129.85999999999999" stroke="#333" stroke-width="0.6"/>
<rect x="408.0" y="133.05" width="118.6" height="6.43" fill="url(#h37)"/>
<rect x="550.0" y="133.05" width="118.4" height="6.43" fill="url(#h38)"/>
<text x="403.6" y="138.44" text-anchor="end" style="font-size:6.15px;font-style:italic;" fill="#333">ABLIM1</text>
<line x1="405.3" y1="136.24" x2="407.4" y2="136.24" stroke="#333" stroke-width="0.6"/>
<rect x="408.0" y="139.43" width="118.6" height="6.43" fill="url(#h39)"/>
<rect x="550.0" y="139.43" width="118.4" height="6.43" fill="url(#h40)"/>
<text x="403.6" y="144.82" text-anchor="end" style="font-size:6.15px;font-style:italic;" fill="#333">CRYL1</text>
<line x1="405.3" y1="142.62" x2="407.4" y2="142.62" stroke="#333" stroke-width="0.6"/>
<text x="340.4" y="82.5" text-anchor="middle" transform="rotate(-90 340.4 82.5)" textLength="50.0" lengthAdjust="spacingAndGlyphs" style="font-size:7.4px;" fill="#222">Protein coding</text>
<rect x="408.0" y="155.58" width="118.6" height="7.50" fill="url(#h41)"/>
<rect x="550.0" y="155.58" width="118.4" height="7.50" fill="url(#h42)"/>
<text x="403.6" y="161.505" text-anchor="end" style="font-size:6.15px;font-style:italic;" fill="#333">SFTA3</text>
<line x1="405.3" y1="159.305" x2="407.4" y2="159.305" stroke="#333" stroke-width="0.6"/>
<rect x="408.0" y="163.03" width="118.6" height="7.50" fill="url(#h43)"/>
<rect x="550.0" y="163.03" width="118.4" height="7.50" fill="url(#h44)"/>
<text x="403.6" y="168.95499999999998" text-anchor="end" style="font-size:6.15px;font-style:italic;" fill="#333">ENSG00000226097</text>
<line x1="405.3" y1="166.755" x2="407.4" y2="166.755" stroke="#333" stroke-width="0.6"/>
<rect x="408.0" y="170.48" width="118.6" height="7.50" fill="url(#h45)"/>
<rect x="550.0" y="170.48" width="118.4" height="7.50" fill="url(#h46)"/>
<text x="403.6" y="176.405" text-anchor="end" style="font-size:6.15px;font-style:italic;" fill="#333">ENSG00000260848</text>
<line x1="405.3" y1="174.205" x2="407.4" y2="174.205" stroke="#333" stroke-width="0.6"/>
<rect x="408.0" y="177.93" width="118.6" height="7.50" fill="url(#h47)"/>
<rect x="550.0" y="177.93" width="118.4" height="7.50" fill="url(#h48)"/>
<text x="403.6" y="183.855" text-anchor="end" style="font-size:6.15px;font-style:italic;" fill="#333">LINC01568</text>
<line x1="405.3" y1="181.655" x2="407.4" y2="181.655" stroke="#333" stroke-width="0.6"/>
<rect x="408.0" y="185.38" width="118.6" height="7.50" fill="url(#h49)"/>
<rect x="550.0" y="185.38" width="118.4" height="7.50" fill="url(#h50)"/>
<text x="403.6" y="191.305" text-anchor="end" style="font-size:6.15px;font-style:italic;" fill="#333">LINC02955</text>
<line x1="405.3" y1="189.10500000000002" x2="407.4" y2="189.10500000000002" stroke="#333" stroke-width="0.6"/>
<rect x="408.0" y="192.83" width="118.6" height="7.50" fill="url(#h51)"/>
<rect x="550.0" y="192.83" width="118.4" height="7.50" fill="url(#h52)"/>
<text x="403.6" y="198.755" text-anchor="end" style="font-size:6.15px;font-style:italic;" fill="#333">LINC00944</text>
<line x1="405.3" y1="196.555" x2="407.4" y2="196.555" stroke="#333" stroke-width="0.6"/>
<rect x="408.0" y="200.28" width="118.6" height="7.50" fill="url(#h53)"/>
<rect x="550.0" y="200.28" width="118.4" height="7.50" fill="url(#h54)"/>
<text x="403.6" y="206.205" text-anchor="end" style="font-size:6.15px;font-style:italic;" fill="#333">LINC00391</text>
<line x1="405.3" y1="204.00500000000002" x2="407.4" y2="204.00500000000002" stroke="#333" stroke-width="0.6"/>
<rect x="408.0" y="207.73" width="118.6" height="7.50" fill="url(#h55)"/>
<rect x="550.0" y="207.73" width="118.4" height="7.50" fill="url(#h56)"/>
<text x="403.6" y="213.655" text-anchor="end" style="font-size:6.15px;font-style:italic;" fill="#333">AMZ2P1</text>
<line x1="405.3" y1="211.455" x2="407.4" y2="211.455" stroke="#333" stroke-width="0.6"/>
<text x="340.4" y="185.6" text-anchor="middle" transform="rotate(-90 340.4 185.6)" textLength="24.1" lengthAdjust="spacingAndGlyphs" style="font-size:7.4px;" fill="#222">lncRNA</text>
<rect x="408.0" y="224.58" width="118.6" height="6.69" fill="url(#h57)"/>
<rect x="550.0" y="224.58" width="118.4" height="6.69" fill="url(#h58)"/>
<text x="403.6" y="230.1" text-anchor="end" style="font-size:6.15px;font-style:italic;" fill="#333">SNORD3B-2</text>
<line x1="405.3" y1="227.9" x2="407.4" y2="227.9" stroke="#333" stroke-width="0.6"/>
<rect x="408.0" y="231.22" width="118.6" height="6.69" fill="url(#h59)"/>
<rect x="550.0" y="231.22" width="118.4" height="6.69" fill="url(#h60)"/>
<text x="403.6" y="236.73999999999998" text-anchor="end" style="font-size:6.15px;font-style:italic;" fill="#333">SNORA58</text>
<line x1="405.3" y1="234.54" x2="407.4" y2="234.54" stroke="#333" stroke-width="0.6"/>
<rect x="408.0" y="237.86" width="118.6" height="6.69" fill="url(#h61)"/>
<rect x="550.0" y="237.86" width="118.4" height="6.69" fill="url(#h62)"/>
<text x="403.6" y="243.38" text-anchor="end" style="font-size:6.15px;font-style:italic;" fill="#333">SNORD35A</text>
<line x1="405.3" y1="241.18" x2="407.4" y2="241.18" stroke="#333" stroke-width="0.6"/>
<rect x="408.0" y="244.50" width="118.6" height="6.69" fill="url(#h63)"/>
<rect x="550.0" y="244.50" width="118.4" height="6.69" fill="url(#h64)"/>
<text x="403.6" y="250.01999999999998" text-anchor="end" style="font-size:6.15px;font-style:italic;" fill="#333">SNORA80E</text>
<line x1="405.3" y1="247.82" x2="407.4" y2="247.82" stroke="#333" stroke-width="0.6"/>
<rect x="408.0" y="251.14" width="118.6" height="6.69" fill="url(#h65)"/>
<rect x="550.0" y="251.14" width="118.4" height="6.69" fill="url(#h66)"/>
<text x="403.6" y="256.66" text-anchor="end" style="font-size:6.15px;font-style:italic;" fill="#333">SNORA53</text>
<line x1="405.3" y1="254.46" x2="407.4" y2="254.46" stroke="#333" stroke-width="0.6"/>
<rect x="408.0" y="257.78" width="118.6" height="6.69" fill="url(#h67)"/>
<rect x="550.0" y="257.78" width="118.4" height="6.69" fill="url(#h68)"/>
<text x="403.6" y="263.3" text-anchor="end" style="font-size:6.15px;font-style:italic;" fill="#333">SNORD13</text>
<line x1="405.3" y1="261.1" x2="407.4" y2="261.1" stroke="#333" stroke-width="0.6"/>
<rect x="408.0" y="264.42" width="118.6" height="6.69" fill="url(#h69)"/>
<rect x="550.0" y="264.42" width="118.4" height="6.69" fill="url(#h70)"/>
<text x="403.6" y="269.94" text-anchor="end" style="font-size:6.15px;font-style:italic;" fill="#333">SNORA3A</text>
<line x1="405.3" y1="267.74" x2="407.4" y2="267.74" stroke="#333" stroke-width="0.6"/>
<rect x="408.0" y="271.06" width="118.6" height="6.69" fill="url(#h71)"/>
<rect x="550.0" y="271.06" width="118.4" height="6.69" fill="url(#h72)"/>
<text x="403.6" y="276.58" text-anchor="end" style="font-size:6.15px;font-style:italic;" fill="#333">RNU5A-1</text>
<line x1="405.3" y1="274.38" x2="407.4" y2="274.38" stroke="#333" stroke-width="0.6"/>
<rect x="408.0" y="277.70" width="118.6" height="6.69" fill="url(#h73)"/>
<rect x="550.0" y="277.70" width="118.4" height="6.69" fill="url(#h74)"/>
<text x="403.6" y="283.21999999999997" text-anchor="end" style="font-size:6.15px;font-style:italic;" fill="#333">RNU5E-4P</text>
<line x1="405.3" y1="281.02" x2="407.4" y2="281.02" stroke="#333" stroke-width="0.6"/>
<rect x="408.0" y="284.34" width="118.6" height="6.69" fill="url(#h75)"/>
<rect x="550.0" y="284.34" width="118.4" height="6.69" fill="url(#h76)"/>
<text x="403.6" y="289.86" text-anchor="end" style="font-size:6.15px;font-style:italic;" fill="#333">RNVU1-15</text>
<line x1="405.3" y1="287.66" x2="407.4" y2="287.66" stroke="#333" stroke-width="0.6"/>
<rect x="408.0" y="290.98" width="118.6" height="6.69" fill="url(#h77)"/>
<rect x="550.0" y="290.98" width="118.4" height="6.69" fill="url(#h78)"/>
<text x="403.6" y="296.5" text-anchor="end" style="font-size:6.15px;font-style:italic;" fill="#333">SCARNA10</text>
<line x1="405.3" y1="294.3" x2="407.4" y2="294.3" stroke="#333" stroke-width="0.6"/>
<rect x="408.0" y="297.62" width="118.6" height="6.69" fill="url(#h79)"/>
<rect x="550.0" y="297.62" width="118.4" height="6.69" fill="url(#h80)"/>
<text x="403.6" y="303.14" text-anchor="end" style="font-size:6.15px;font-style:italic;" fill="#333">SCARNA2</text>
<line x1="405.3" y1="300.94" x2="407.4" y2="300.94" stroke="#333" stroke-width="0.6"/>
<text x="340.4" y="264.4" text-anchor="middle" transform="rotate(-90 340.4 264.4)" textLength="65.0" lengthAdjust="spacingAndGlyphs" style="font-size:7.4px;" fill="#222">snoRNA and snRNA</text>
<rect x="408.0" y="312.45" width="118.6" height="6.75" fill="url(#h81)"/>
<rect x="550.0" y="312.45" width="118.4" height="6.75" fill="url(#h82)"/>
<text x="403.6" y="318.0" text-anchor="end" style="font-size:6.15px;font-style:italic;" fill="#333">MIR128-2</text>
<line x1="405.3" y1="315.8" x2="407.4" y2="315.8" stroke="#333" stroke-width="0.6"/>
<rect x="408.0" y="319.15" width="118.6" height="6.75" fill="url(#h83)"/>
<rect x="550.0" y="319.15" width="118.4" height="6.75" fill="url(#h84)"/>
<text x="403.6" y="324.7" text-anchor="end" style="font-size:6.15px;font-style:italic;" fill="#333">MIR222</text>
<line x1="405.3" y1="322.5" x2="407.4" y2="322.5" stroke="#333" stroke-width="0.6"/>
<rect x="408.0" y="325.85" width="118.6" height="6.75" fill="url(#h85)"/>
<rect x="550.0" y="325.85" width="118.4" height="6.75" fill="url(#h86)"/>
<text x="403.6" y="331.4" text-anchor="end" style="font-size:6.15px;font-style:italic;" fill="#333">MIR23A</text>
<line x1="405.3" y1="329.2" x2="407.4" y2="329.2" stroke="#333" stroke-width="0.6"/>
<rect x="408.0" y="332.55" width="118.6" height="6.75" fill="url(#h87)"/>
<rect x="550.0" y="332.55" width="118.4" height="6.75" fill="url(#h88)"/>
<text x="403.6" y="338.1" text-anchor="end" style="font-size:6.15px;font-style:italic;" fill="#333">MIR103A1</text>
<line x1="405.3" y1="335.90000000000003" x2="407.4" y2="335.90000000000003" stroke="#333" stroke-width="0.6"/>
<rect x="408.0" y="339.25" width="118.6" height="6.75" fill="url(#h89)"/>
<rect x="550.0" y="339.25" width="118.4" height="6.75" fill="url(#h90)"/>
<text x="403.6" y="344.8" text-anchor="end" style="font-size:6.15px;font-style:italic;" fill="#333">MIR663A</text>
<line x1="405.3" y1="342.6" x2="407.4" y2="342.6" stroke="#333" stroke-width="0.6"/>
<rect x="408.0" y="345.95" width="118.6" height="6.75" fill="url(#h91)"/>
<rect x="550.0" y="345.95" width="118.4" height="6.75" fill="url(#h92)"/>
<text x="403.6" y="351.5" text-anchor="end" style="font-size:6.15px;font-style:italic;" fill="#333">MIR92B</text>
<line x1="405.3" y1="349.3" x2="407.4" y2="349.3" stroke="#333" stroke-width="0.6"/>
<rect x="408.0" y="352.65" width="118.6" height="6.75" fill="url(#h93)"/>
<rect x="550.0" y="352.65" width="118.4" height="6.75" fill="url(#h94)"/>
<text x="403.6" y="358.2" text-anchor="end" style="font-size:6.15px;font-style:italic;" fill="#333">MIRLET7B</text>
<line x1="405.3" y1="356.0" x2="407.4" y2="356.0" stroke="#333" stroke-width="0.6"/>
<rect x="408.0" y="359.35" width="118.6" height="6.75" fill="url(#h95)"/>
<rect x="550.0" y="359.35" width="118.4" height="6.75" fill="url(#h96)"/>
<text x="403.6" y="364.9" text-anchor="end" style="font-size:6.15px;font-style:italic;" fill="#333">MIR27A</text>
<line x1="405.3" y1="362.7" x2="407.4" y2="362.7" stroke="#333" stroke-width="0.6"/>
<rect x="408.0" y="366.05" width="118.6" height="6.75" fill="url(#h97)"/>
<rect x="550.0" y="366.05" width="118.4" height="6.75" fill="url(#h98)"/>
<text x="403.6" y="371.6" text-anchor="end" style="font-size:6.15px;font-style:italic;" fill="#333">MIR125B1</text>
<line x1="405.3" y1="369.40000000000003" x2="407.4" y2="369.40000000000003" stroke="#333" stroke-width="0.6"/>
<text x="340.4" y="343.0" text-anchor="middle" transform="rotate(-90 340.4 343.0)" textLength="23.3" lengthAdjust="spacingAndGlyphs" style="font-size:7.4px;" fill="#222">miRNA</text>
<line x1="336.5" y1="12.3" x2="677.6" y2="12.3" stroke="#8a8a8a" stroke-width="0.9"/>
<line x1="336.5" y1="151.2" x2="677.6" y2="151.2" stroke="#8a8a8a" stroke-width="0.9"/>
<line x1="336.5" y1="219.5" x2="677.6" y2="219.5" stroke="#8a8a8a" stroke-width="0.9"/>
<line x1="336.5" y1="308.6" x2="677.6" y2="308.6" stroke="#8a8a8a" stroke-width="0.9"/>
<rect x="409.9" y="377.0" width="117.6" height="9.5" fill="url(#gExc)"/>
<rect x="551.4" y="377.0" width="117.6" height="9.5" fill="url(#gInh)"/>
<line x1="426.7" y1="390.6" x2="511.6" y2="390.6" stroke="#111" stroke-width="0.9"/>
<path d="M514.6,390.6 L510.40000000000003,388.8 L510.40000000000003,392.40000000000003 Z" fill="#111"/>
<line x1="567.8" y1="389.7" x2="653.2" y2="389.7" stroke="#111" stroke-width="0.9"/>
<path d="M656.2,389.7 L652.0,387.9 L652.0,391.5 Z" fill="#111"/>
<text x="416.4" y="397.6" text-anchor="middle" textLength="18.7" lengthAdjust="spacingAndGlyphs" style="font-size:8.6px;" fill="#231f20">Early</text>
<text x="524.8" y="397.6" text-anchor="middle" textLength="16.5" lengthAdjust="spacingAndGlyphs" style="font-size:8.6px;" fill="#231f20">Late</text>
<text x="470.5" y="402.9" text-anchor="middle" textLength="39.4" lengthAdjust="spacingAndGlyphs" style="font-size:9.0px;" fill="#231f20">Excitatory</text>
<text x="558.0" y="397.6" text-anchor="middle" textLength="18.7" lengthAdjust="spacingAndGlyphs" style="font-size:8.6px;" fill="#231f20">Early</text>
<text x="666.9" y="397.6" text-anchor="middle" textLength="16.5" lengthAdjust="spacingAndGlyphs" style="font-size:8.6px;" fill="#231f20">Late</text>
<text x="612.2" y="402.9" text-anchor="middle" textLength="38.3" lengthAdjust="spacingAndGlyphs" style="font-size:9.0px;" fill="#231f20">Inhibitory</text>
<rect x="408.0" y="18.21" width="118.6" height="127.60" filter="url(#strp0)" style="mix-blend-mode:screen"/>
<rect x="408.0" y="155.58" width="118.6" height="59.60" filter="url(#strp0)" style="mix-blend-mode:screen"/>
<rect x="408.0" y="224.58" width="118.6" height="79.68" filter="url(#strp0)" style="mix-blend-mode:screen"/>
<rect x="408.0" y="312.45" width="118.6" height="60.30" filter="url(#strp0)" style="mix-blend-mode:screen"/>
<rect x="550.0" y="18.21" width="118.4" height="127.60" filter="url(#strp1)" style="mix-blend-mode:screen"/>
<rect x="550.0" y="155.58" width="118.4" height="59.60" filter="url(#strp1)" style="mix-blend-mode:screen"/>
<rect x="550.0" y="224.58" width="118.4" height="79.68" filter="url(#strp1)" style="mix-blend-mode:screen"/>
<rect x="550.0" y="312.45" width="118.4" height="60.30" filter="url(#strp1)" style="mix-blend-mode:screen"/>
<rect x="131.9" y="402.4" width="52.6" height="170.9" fill="none" stroke="#555" stroke-width="0.8"/>
<text x="125.4" y="417.09999999999997" text-anchor="end" style="font-size:9.1px;" fill="#231f20">Postnatal neuronal cell</text>
<line x1="129.2" y1="413.9" x2="131.9" y2="413.9" stroke="#555" stroke-width="0.7"/>
<text x="125.4" y="428.46999999999997" text-anchor="end" style="font-size:9.1px;" fill="#231f20">IN-immature</text>
<line x1="129.2" y1="425.27" x2="131.9" y2="425.27" stroke="#555" stroke-width="0.7"/>
<text x="125.4" y="439.84" text-anchor="end" style="font-size:9.1px;" fill="#231f20">EN-immature</text>
<line x1="129.2" y1="436.64" x2="131.9" y2="436.64" stroke="#555" stroke-width="0.7"/>
<text x="125.4" y="451.21" text-anchor="end" style="font-size:9.1px;" fill="#231f20">RG</text>
<line x1="129.2" y1="448.01" x2="131.9" y2="448.01" stroke="#555" stroke-width="0.7"/>
<text x="125.4" y="462.58" text-anchor="end" style="font-size:9.1px;" fill="#231f20">IN-MGE</text>
<line x1="129.2" y1="459.38" x2="131.9" y2="459.38" stroke="#555" stroke-width="0.7"/>
<text x="125.4" y="473.95" text-anchor="end" style="font-size:9.1px;" fill="#231f20">IN-MGE-SST</text>
<line x1="129.2" y1="470.75" x2="131.9" y2="470.75" stroke="#555" stroke-width="0.7"/>
<text x="125.4" y="485.32" text-anchor="end" style="font-size:9.1px;" fill="#231f20">IN-CGE</text>
<line x1="129.2" y1="482.12" x2="131.9" y2="482.12" stroke="#555" stroke-width="0.7"/>
<text x="125.4" y="496.68999999999994" text-anchor="end" style="font-size:9.1px;" fill="#231f20">IN-CGE-VIP</text>
<line x1="129.2" y1="493.48999999999995" x2="131.9" y2="493.48999999999995" stroke="#555" stroke-width="0.7"/>
<text x="125.4" y="508.05999999999995" text-anchor="end" style="font-size:9.1px;" fill="#231f20">IN-LGE-FOXP2</text>
<line x1="129.2" y1="504.85999999999996" x2="131.9" y2="504.85999999999996" stroke="#555" stroke-width="0.7"/>
<text x="125.4" y="519.4300000000001" text-anchor="end" style="font-size:9.1px;" fill="#231f20">IN-LGE-FOXP1</text>
<line x1="129.2" y1="516.23" x2="131.9" y2="516.23" stroke="#555" stroke-width="0.7"/>
<text x="125.4" y="530.8" text-anchor="end" style="font-size:9.1px;" fill="#231f20">EN-deep_layer</text>
<line x1="129.2" y1="527.5999999999999" x2="131.9" y2="527.5999999999999" stroke="#555" stroke-width="0.7"/>
<text x="125.4" y="542.1700000000001" text-anchor="end" style="font-size:9.1px;" fill="#231f20">IPC</text>
<line x1="129.2" y1="538.97" x2="131.9" y2="538.97" stroke="#555" stroke-width="0.7"/>
<text x="125.4" y="553.54" text-anchor="end" style="font-size:9.1px;" fill="#231f20">Cajal–Retzius cell</text>
<line x1="129.2" y1="550.3399999999999" x2="131.9" y2="550.3399999999999" stroke="#555" stroke-width="0.7"/>
<text x="125.4" y="564.9100000000001" text-anchor="end" style="font-size:9.1px;" fill="#231f20">EN-upper_layer</text>
<line x1="129.2" y1="561.71" x2="131.9" y2="561.71" stroke="#555" stroke-width="0.7"/>
<line x1="139.5" y1="573.3" x2="139.5" y2="576.0" stroke="#555" stroke-width="0.7"/>
<line x1="148.8" y1="573.3" x2="148.8" y2="576.0" stroke="#555" stroke-width="0.7"/>
<line x1="158.1" y1="573.3" x2="158.1" y2="576.0" stroke="#555" stroke-width="0.7"/>
<line x1="167.4" y1="573.3" x2="167.4" y2="576.0" stroke="#555" stroke-width="0.7"/>
<line x1="176.8" y1="573.3" x2="176.8" y2="576.0" stroke="#555" stroke-width="0.7"/>
<text x="142.1" y="583.6" text-anchor="end" transform="rotate(-45 142.1 583.6)" style="font-size:7.4px;font-style:italic;" fill="#231f20">MIR137</text>
<text x="151.4" y="583.6" text-anchor="end" transform="rotate(-45 151.4 583.6)" style="font-size:7.4px;font-style:italic;" fill="#231f20">MIR128-2</text>
<text x="160.7" y="583.6" text-anchor="end" transform="rotate(-45 160.7 583.6)" style="font-size:7.4px;font-style:italic;" fill="#231f20">MIR125B2</text>
<text x="170.0" y="583.6" text-anchor="end" transform="rotate(-45 170.0 583.6)" style="font-size:7.4px;font-style:italic;" fill="#231f20">MIR17</text>
<text x="179.4" y="583.6" text-anchor="end" transform="rotate(-45 179.4 583.6)" style="font-size:7.4px;font-style:italic;" fill="#231f20">MIR222</text>
<circle cx="139.5" cy="413.9" r="0.55" fill="#c9b8b0"/>
<circle cx="148.8" cy="413.9" r="0.55" fill="#c9b8b0"/>
<circle cx="139.5" cy="425.3" r="0.55" fill="#c9b8b0"/>
<circle cx="148.8" cy="425.3" r="0.55" fill="#c9b8b0"/>
<circle cx="139.5" cy="436.6" r="0.55" fill="#c9b8b0"/>
<circle cx="139.5" cy="448.0" r="0.55" fill="#c9b8b0"/>
<circle cx="139.5" cy="459.4" r="0.55" fill="#c9b8b0"/>
<circle cx="158.1" cy="459.4" r="0.55" fill="#c9b8b0"/>
<circle cx="176.8" cy="459.4" r="0.55" fill="#c9b8b0"/>
<circle cx="158.1" cy="470.8" r="0.55" fill="#c9b8b0"/>
<circle cx="139.5" cy="482.1" r="0.55" fill="#c9b8b0"/>
<circle cx="148.8" cy="482.1" r="0.55" fill="#c9b8b0"/>
<circle cx="158.1" cy="482.1" r="0.55" fill="#c9b8b0"/>
<circle cx="176.8" cy="482.1" r="0.55" fill="#c9b8b0"/>
<circle cx="139.5" cy="493.5" r="0.55" fill="#c9b8b0"/>
<circle cx="148.8" cy="493.5" r="0.55" fill="#c9b8b0"/>
<circle cx="158.1" cy="493.5" r="0.55" fill="#c9b8b0"/>
<circle cx="158.1" cy="504.9" r="0.55" fill="#c9b8b0"/>
<circle cx="139.5" cy="516.2" r="0.55" fill="#c9b8b0"/>
<circle cx="158.1" cy="516.2" r="0.55" fill="#c9b8b0"/>
<circle cx="176.8" cy="516.2" r="0.55" fill="#c9b8b0"/>
<circle cx="139.5" cy="527.6" r="0.55" fill="#c9b8b0"/>
<circle cx="139.5" cy="539.0" r="0.55" fill="#c9b8b0"/>
<circle cx="139.5" cy="561.7" r="0.55" fill="#c9b8b0"/>
<circle cx="158.1" cy="561.7" r="0.55" fill="#c9b8b0"/>
<circle cx="176.8" cy="561.7" r="0.55" fill="#c9b8b0"/>
<circle cx="158.1" cy="413.9" r="0.5" fill="#e8d8d0"/>
<circle cx="167.4" cy="413.9" r="0.5" fill="#eee"/>
<circle cx="176.8" cy="413.9" r="0.6" fill="#ddd"/>
<circle cx="158.1" cy="425.3" r="0.9" fill="#c86a55" stroke="#333" stroke-width="0.35"/>
<circle cx="167.4" cy="425.3" r="1.6" fill="#e9866a" stroke="#333" stroke-width="0.35"/>
<circle cx="176.8" cy="425.3" r="1.8" fill="#f6c0a6" stroke="#333" stroke-width="0.35"/>
<circle cx="148.8" cy="436.6" r="0.6" fill="#b89a90"/>
<circle cx="158.1" cy="436.6" r="1.2" fill="#d2452f" stroke="#333" stroke-width="0.35"/>
<circle cx="167.4" cy="436.6" r="0.8" fill="#8a4a40"/>
<circle cx="176.8" cy="436.6" r="1.1" fill="#d8a090" stroke="#333" stroke-width="0.35"/>
<circle cx="148.8" cy="448.0" r="0.6" fill="#ccc"/>
<circle cx="158.1" cy="448.0" r="1.3" fill="#dc4b33" stroke="#333" stroke-width="0.35"/>
<circle cx="167.4" cy="448.0" r="1.2" fill="#ecc8b8" stroke="#333" stroke-width="0.35"/>
<circle cx="176.8" cy="448.0" r="5.1" fill="#67000d" stroke="#333" stroke-width="0.35"/>
<circle cx="148.8" cy="459.4" r="0.6" fill="#9a7a70"/>
<circle cx="167.4" cy="459.4" r="0.7" fill="#9a5a50"/>
<circle cx="139.5" cy="470.8" r="0.6" fill="#a08070"/>
<circle cx="148.8" cy="470.8" r="0.6" fill="#ccc"/>
<circle cx="167.4" cy="470.8" r="1.3" fill="#e5866a" stroke="#333" stroke-width="0.35"/>
<circle cx="176.8" cy="470.8" r="0.6" fill="#ccc"/>
<circle cx="167.4" cy="482.1" r="0.8" fill="#c06a55"/>
<circle cx="167.4" cy="493.5" r="1.1" fill="#e8a088" stroke="#333" stroke-width="0.35"/>
<circle cx="176.8" cy="493.5" r="1.0" fill="#d8a898" stroke="#333" stroke-width="0.35"/>
<circle cx="139.5" cy="504.9" r="0.7" fill="#c08a78"/>
<circle cx="148.8" cy="504.9" r="0.9" fill="#d8b0a0" stroke="#333" stroke-width="0.35"/>
<circle cx="167.4" cy="504.9" r="0.8" fill="#d09a88"/>
<circle cx="176.8" cy="504.9" r="0.9" fill="#c8a090" stroke="#333" stroke-width="0.35"/>
<circle cx="148.8" cy="516.2" r="2.9" fill="#67000d" stroke="#333" stroke-width="0.35"/>
<circle cx="167.4" cy="516.2" r="0.9" fill="#f0c8b8" stroke="#333" stroke-width="0.35"/>
<circle cx="148.8" cy="527.6" r="2.1" fill="#f5613f" stroke="#333" stroke-width="0.35"/>
<circle cx="158.1" cy="527.6" r="0.8" fill="#e0b0a0"/>
<circle cx="167.4" cy="527.6" r="1.2" fill="#f3a58a" stroke="#333" stroke-width="0.35"/>
<circle cx="176.8" cy="527.6" r="2.2" fill="#f8764f" stroke="#333" stroke-width="0.35"/>
<circle cx="148.8" cy="539.0" r="1.3" fill="#f7c4a8" stroke="#333" stroke-width="0.35"/>
<circle cx="158.1" cy="539.0" r="1.1" fill="#d42a20" stroke="#333" stroke-width="0.35"/>
<circle cx="167.4" cy="539.0" r="1.4" fill="#f68a68" stroke="#333" stroke-width="0.35"/>
<circle cx="176.8" cy="539.0" r="3.2" fill="#e02b26" stroke="#333" stroke-width="0.35"/>
<circle cx="139.5" cy="550.3" r="2.1" fill="#67000d" stroke="#333" stroke-width="0.35"/>
<circle cx="148.8" cy="550.3" r="1.7" fill="#f6a88c" stroke="#333" stroke-width="0.35"/>
<circle cx="158.1" cy="550.3" r="1.2" fill="#7c0212" stroke="#333" stroke-width="0.35"/>
<circle cx="167.4" cy="550.3" r="3.0" fill="#67000d" stroke="#333" stroke-width="0.35"/>
<circle cx="176.8" cy="550.3" r="1.8" fill="#f5a183" stroke="#333" stroke-width="0.35"/>
<circle cx="148.8" cy="561.7" r="0.8" fill="#d8b0a0"/>
<circle cx="167.4" cy="561.7" r="0.6" fill="#b09080"/>
<path d="M186.8,436.6H196.8V448.0H186.8 M186.8,425.3H199.5V442.3H196.8 M186.8,459.4H191.0V470.8H186.8 M186.8,493.5H191.5V504.9H186.8 M186.8,482.1H193.6V499.2H191.5 M191.0,465.1H197.8V490.6H193.6 M186.8,527.6H191.0V539.0H186.8 M186.8,550.3H197.4V561.7H186.8 M191.0,533.3H200.0V556.0H197.4 M186.8,516.2H203.8V544.7H200.0 M197.8,477.9H208.4V530.4H203.8 M199.5,433.8H222.2V504.1H208.4 M186.8,413.9H228.6V469.0H222.2" fill="none" stroke="#9a9a9a" stroke-width="0.75"/>
<text x="270.4" y="484.4" text-anchor="middle" textLength="63.9" lengthAdjust="spacingAndGlyphs" style="font-size:9.1px;" fill="#231f20">Fraction of cells</text>
<text x="267.6" y="493.9" text-anchor="middle" textLength="49" lengthAdjust="spacingAndGlyphs" style="font-size:9.1px;" fill="#231f20">in group (%)</text>
<circle cx="237.6" cy="506.5" r="1.8" fill="#808080"/>
<line x1="237.6" y1="517.8" x2="237.6" y2="520.2" stroke="#888" stroke-width="0.7"/>
<text x="237.6" y="531.0" text-anchor="middle" style="font-size:8.3px;" fill="#333">5</text>
<circle cx="249.7" cy="506.5" r="2.9" fill="#808080"/>
<line x1="249.7" y1="517.8" x2="249.7" y2="520.2" stroke="#888" stroke-width="0.7"/>
<text x="249.7" y="531.0" text-anchor="middle" style="font-size:8.3px;" fill="#333">10</text>
<circle cx="261.5" cy="506.5" r="3.8" fill="#808080"/>
<line x1="261.5" y1="517.8" x2="261.5" y2="520.2" stroke="#888" stroke-width="0.7"/>
<text x="261.5" y="531.0" text-anchor="middle" style="font-size:8.3px;" fill="#333">15</text>
<circle cx="273.2" cy="506.5" r="4.7" fill="#808080"/>
<line x1="273.2" y1="517.8" x2="273.2" y2="520.2" stroke="#888" stroke-width="0.7"/>
<text x="273.2" y="531.0" text-anchor="middle" style="font-size:8.3px;" fill="#333">20</text>
<circle cx="285.3" cy="506.5" r="5.6" fill="#808080"/>
<line x1="285.3" y1="517.8" x2="285.3" y2="520.2" stroke="#888" stroke-width="0.7"/>
<text x="285.3" y="531.0" text-anchor="middle" style="font-size:8.3px;" fill="#333">25</text>
<text x="263.6" y="562.3" text-anchor="middle" textLength="67" lengthAdjust="spacingAndGlyphs" style="font-size:9.1px;" fill="#231f20">Mean expression</text>
<text x="263.0" y="571.8" text-anchor="middle" textLength="33.5" lengthAdjust="spacingAndGlyphs" style="font-size:9.1px;" fill="#231f20">in group</text>
<rect x="233.6" y="577.5" width="60.2" height="11.9" fill="url(#gReds)" stroke="#555" stroke-width="0.5"/>
<line x1="233.6" y1="589.4" x2="233.6" y2="591.5" stroke="#555" stroke-width="0.6"/>
<text x="233.6" y="602.6" text-anchor="middle" style="font-size:8.6px;" fill="#231f20">0</text>
<line x1="263.7" y1="589.4" x2="263.7" y2="591.5" stroke="#555" stroke-width="0.6"/>
<text x="263.7" y="602.6" text-anchor="middle" style="font-size:8.6px;" fill="#231f20">0.5</text>
<line x1="293.8" y1="589.4" x2="293.8" y2="591.5" stroke="#555" stroke-width="0.6"/>
<text x="293.8" y="602.6" text-anchor="middle" style="font-size:8.6px;" fill="#231f20">1.0</text>
<rect x="140.1" y="628.6" width="38.8" height="96.89999999999998" fill="#e2f1f7"/>
<rect x="203.1" y="628.6" width="38.8" height="96.89999999999998" fill="#e2f1f7"/>
<g clip-path="url(#clipE)">
<polygon points="103.6,689.2 106.6,689.2 108.8,691.4 114.6,691.4 129.2,691.2 131.4,692.2 133.6,693.3 135,690.7 137.2,673.2 139.4,654.2 141.6,640.3 143.8,636 146.7,634.5 155.5,634.5 158.4,633.8 167.2,633.3 169.3,634.5 173,637.4 173.7,654.2 175.2,662.5 176.6,667.5 178.8,675.4 185.4,675.4 187.6,676.8 189.3,681.2 193.4,681.2 196.4,679.9 221.1,679.7 229.3,680.9 234.4,682.3 238.5,686.5 240.5,689.5 242.6,685.4 244.6,669 247.7,666 255.8,662.9 266.1,660.5 270.1,660.9 276.3,661.3 279.3,665 280.1,667 280.1,721.6 103.6,721.6" fill="#d9d9d9" fill-opacity="0.62"/>
<polyline points="103.6,689.2 106.6,689.2 108.8,691.4 114.6,691.4 129.2,691.2 131.4,692.2 133.6,693.3 135,690.7 137.2,673.2 139.4,654.2 141.6,640.3 143.8,636 146.7,634.5 155.5,634.5 158.4,633.8 167.2,633.3 169.3,634.5 173,637.4 173.7,654.2 175.2,662.5 176.6,667.5 178.8,675.4 185.4,675.4 187.6,676.8 189.3,681.2 193.4,681.2 196.4,679.9 221.1,679.7 229.3,680.9 234.4,682.3 238.5,686.5 240.5,689.5 242.6,685.4 244.6,669 247.7,666 255.8,662.9 266.1,660.5 270.1,660.9 276.3,661.3 279.3,665 280.1,667" fill="none" stroke="#9a9a9a" stroke-width="0.8"/>
</g>
<rect x="103.3" y="628.6" width="177.09999999999997" height="96.89999999999998" fill="none" stroke="#8c8c8c" stroke-width="0.9"/>
<line x1="100.6" y1="721.4" x2="103.3" y2="721.4" stroke="#555" stroke-width="0.6"/>
<text x="98.9" y="724.4" text-anchor="end" style="font-size:8.6px;" fill="#231f20">0</text>
<line x1="100.6" y1="698.75" x2="103.3" y2="698.75" stroke="#555" stroke-width="0.6"/>
<text x="98.9" y="701.75" text-anchor="end" style="font-size:8.6px;" fill="#231f20">100</text>
<line x1="100.6" y1="676.1" x2="103.3" y2="676.1" stroke="#555" stroke-width="0.6"/>
<text x="98.9" y="679.1" text-anchor="end" style="font-size:8.6px;" fill="#231f20">200</text>
<line x1="100.6" y1="653.4499999999999" x2="103.3" y2="653.4499999999999" stroke="#555" stroke-width="0.6"/>
<text x="98.9" y="656.4499999999999" text-anchor="end" style="font-size:8.6px;" fill="#231f20">300</text>
<line x1="100.6" y1="630.8" x2="103.3" y2="630.8" stroke="#555" stroke-width="0.6"/>
<text x="98.9" y="633.8" text-anchor="end" style="font-size:8.6px;" fill="#231f20">400</text>
<text x="76.0" y="677.4" text-anchor="middle" transform="rotate(-90 76.0 677.4)" textLength="45.4" lengthAdjust="spacingAndGlyphs" style="font-size:8.9px;" fill="#231f20">Read depth</text>
<text x="192.0" y="722.3" text-anchor="middle" textLength="125.7" lengthAdjust="spacingAndGlyphs" style="font-size:8.8px;" fill="#231f20">chr1(−): 98,046,070–98,046,171</text>
<line x1="104.1" y1="742.1" x2="280.0" y2="742.1" stroke="#2b2bb0" stroke-width="1.1"/>
<rect x="140.0" y="738.8" width="39.3" height="6.6" fill="#00008b"/>
<path d="M146.5,738.6 L143.9,742.1 L146.5,745.6" fill="none" stroke="#fff" stroke-width="0.95"/>
<path d="M153.4,738.6 L150.8,742.1 L153.4,745.6" fill="none" stroke="#fff" stroke-width="0.95"/>
<path d="M160.4,738.6 L157.8,742.1 L160.4,745.6" fill="none" stroke="#fff" stroke-width="0.95"/>
<path d="M167.3,738.6 L164.8,742.1 L167.3,745.6" fill="none" stroke="#fff" stroke-width="0.95"/>
<path d="M174.3,738.6 L171.7,742.1 L174.3,745.6" fill="none" stroke="#fff" stroke-width="0.95"/>
<rect x="202.6" y="738.8" width="39.3" height="6.6" fill="#00008b"/>
<path d="M209.1,738.6 L206.5,742.1 L209.1,745.6" fill="none" stroke="#fff" stroke-width="0.95"/>
<path d="M216.0,738.6 L213.4,742.1 L216.0,745.6" fill="none" stroke="#fff" stroke-width="0.95"/>
<path d="M223.0,738.6 L220.4,742.1 L223.0,745.6" fill="none" stroke="#fff" stroke-width="0.95"/>
<path d="M229.9,738.6 L227.3,742.1 L229.9,745.6" fill="none" stroke="#fff" stroke-width="0.95"/>
<path d="M236.9,738.6 L234.3,742.1 L236.9,745.6" fill="none" stroke="#fff" stroke-width="0.95"/>
<text x="161.0" y="757.0" text-anchor="middle" style="font-size:7.8px;" fill="#231f20">3p</text>
<text x="223.7" y="757.0" text-anchor="middle" style="font-size:7.8px;" fill="#231f20">5p</text>
<text x="191.8" y="765.9" text-anchor="middle" style="font-size:8.6px;font-style:italic;" fill="#231f20">MIR137</text>
<rect x="431.89" y="587.23" width="6.29" height="1.07" fill="#d3d3d3" stroke="#111" stroke-width="0.55"/>
<rect x="438.18" y="585.63" width="6.29" height="2.67" fill="#d3d3d3" stroke="#111" stroke-width="0.55"/>
<rect x="444.47" y="582.96" width="6.29" height="5.34" fill="#d3d3d3" stroke="#111" stroke-width="0.55"/>
<rect x="450.76" y="581.90" width="6.29" height="6.40" fill="#d3d3d3" stroke="#111" stroke-width="0.55"/>
<rect x="457.05" y="578.69" width="6.29" height="9.61" fill="#d3d3d3" stroke="#111" stroke-width="0.55"/>
<rect x="463.34" y="578.69" width="6.29" height="9.61" fill="#d3d3d3" stroke="#111" stroke-width="0.55"/>
<rect x="469.63" y="562.68" width="6.29" height="25.62" fill="#d3d3d3" stroke="#111" stroke-width="0.55"/>
<rect x="475.92" y="552.54" width="6.29" height="35.76" fill="#d3d3d3" stroke="#111" stroke-width="0.55"/>
<rect x="482.21" y="541.87" width="6.29" height="46.43" fill="#d3d3d3" stroke="#111" stroke-width="0.55"/>
<rect x="488.50" y="527.46" width="6.29" height="60.84" fill="#d3d3d3" stroke="#111" stroke-width="0.55"/>
<rect x="494.79" y="513.58" width="6.29" height="74.72" fill="#d3d3d3" stroke="#111" stroke-width="0.55"/>
<rect x="501.08" y="498.10" width="6.29" height="90.20" fill="#d3d3d3" stroke="#111" stroke-width="0.55"/>
<rect x="507.37" y="481.56" width="6.29" height="106.74" fill="#d3d3d3" stroke="#111" stroke-width="0.55"/>
<rect x="513.66" y="467.68" width="6.29" height="120.62" fill="#d3d3d3" stroke="#111" stroke-width="0.55"/>
<rect x="519.95" y="481.56" width="6.29" height="106.74" fill="#d3d3d3" stroke="#111" stroke-width="0.55"/>
<rect x="526.24" y="477.82" width="6.29" height="110.48" fill="#d3d3d3" stroke="#111" stroke-width="0.55"/>
<rect x="532.53" y="492.23" width="6.29" height="96.07" fill="#d3d3d3" stroke="#111" stroke-width="0.55"/>
<rect x="538.82" y="501.84" width="6.29" height="86.46" fill="#d3d3d3" stroke="#111" stroke-width="0.55"/>
<rect x="545.11" y="516.25" width="6.29" height="72.05" fill="#d3d3d3" stroke="#111" stroke-width="0.55"/>
<rect x="551.40" y="529.06" width="6.29" height="59.24" fill="#d3d3d3" stroke="#111" stroke-width="0.55"/>
<rect x="557.69" y="539.73" width="6.29" height="48.57" fill="#d3d3d3" stroke="#111" stroke-width="0.55"/>
<rect x="563.98" y="548.27" width="6.29" height="40.03" fill="#d3d3d3" stroke="#111" stroke-width="0.55"/>
<rect x="570.27" y="561.08" width="6.29" height="27.22" fill="#d3d3d3" stroke="#111" stroke-width="0.55"/>
<rect x="576.56" y="568.02" width="6.29" height="20.28" fill="#d3d3d3" stroke="#111" stroke-width="0.55"/>
<rect x="582.85" y="577.09" width="6.29" height="11.21" fill="#d3d3d3" stroke="#111" stroke-width="0.55"/>
<rect x="589.14" y="578.69" width="6.29" height="9.61" fill="#d3d3d3" stroke="#111" stroke-width="0.55"/>
<rect x="595.43" y="580.29" width="6.29" height="8.01" fill="#d3d3d3" stroke="#111" stroke-width="0.55"/>
<rect x="601.72" y="582.96" width="6.29" height="5.34" fill="#d3d3d3" stroke="#111" stroke-width="0.55"/>
<rect x="608.01" y="586.17" width="6.29" height="2.13" fill="#d3d3d3" stroke="#111" stroke-width="0.55"/>
<rect x="614.30" y="587.23" width="6.29" height="1.07" fill="#d3d3d3" stroke="#111" stroke-width="0.55"/>
<rect x="438.18" y="586.70" width="6.29" height="1.60" fill="rgba(0,128,128,0.55)" stroke="#111" stroke-width="0.55"/>
<rect x="444.47" y="579.23" width="6.29" height="9.07" fill="rgba(0,128,128,0.55)" stroke="#111" stroke-width="0.55"/>
<rect x="450.76" y="576.02" width="6.29" height="12.28" fill="rgba(0,128,128,0.55)" stroke="#111" stroke-width="0.55"/>
<rect x="457.05" y="567.49" width="6.29" height="20.81" fill="rgba(0,128,128,0.55)" stroke="#111" stroke-width="0.55"/>
<rect x="463.34" y="555.21" width="6.29" height="33.09" fill="rgba(0,128,128,0.55)" stroke="#111" stroke-width="0.55"/>
<rect x="469.63" y="530.66" width="6.29" height="57.64" fill="rgba(0,128,128,0.55)" stroke="#111" stroke-width="0.55"/>
<rect x="475.92" y="522.12" width="6.29" height="66.18" fill="rgba(0,128,128,0.55)" stroke="#111" stroke-width="0.55"/>
<rect x="482.21" y="506.64" width="6.29" height="81.66" fill="rgba(0,128,128,0.55)" stroke="#111" stroke-width="0.55"/>
<rect x="488.50" y="503.98" width="6.29" height="84.32" fill="rgba(0,128,128,0.55)" stroke="#111" stroke-width="0.55"/>
<rect x="494.79" y="478.89" width="6.29" height="109.41" fill="rgba(0,128,128,0.55)" stroke="#111" stroke-width="0.55"/>
<rect x="501.08" y="468.75" width="6.29" height="119.55" fill="rgba(0,128,128,0.55)" stroke="#111" stroke-width="0.55"/>
<rect x="507.37" y="467.15" width="6.29" height="121.15" fill="rgba(0,128,128,0.55)" stroke="#111" stroke-width="0.55"/>
<rect x="513.66" y="472.49" width="6.29" height="115.81" fill="rgba(0,128,128,0.55)" stroke="#111" stroke-width="0.55"/>
<rect x="519.95" y="480.49" width="6.29" height="107.81" fill="rgba(0,128,128,0.55)" stroke="#111" stroke-width="0.55"/>
<rect x="526.24" y="498.10" width="6.29" height="90.20" fill="rgba(0,128,128,0.55)" stroke="#111" stroke-width="0.55"/>
<rect x="532.53" y="530.66" width="6.29" height="57.64" fill="rgba(0,128,128,0.55)" stroke="#111" stroke-width="0.55"/>
<rect x="538.82" y="530.66" width="6.29" height="57.64" fill="rgba(0,128,128,0.55)" stroke="#111" stroke-width="0.55"/>
<rect x="545.11" y="542.94" width="6.29" height="45.36" fill="rgba(0,128,128,0.55)" stroke="#111" stroke-width="0.55"/>
<rect x="551.40" y="549.87" width="6.29" height="38.43" fill="rgba(0,128,128,0.55)" stroke="#111" stroke-width="0.55"/>
<rect x="557.69" y="564.28" width="6.29" height="24.02" fill="rgba(0,128,128,0.55)" stroke="#111" stroke-width="0.55"/>
<rect x="563.98" y="572.29" width="6.29" height="16.01" fill="rgba(0,128,128,0.55)" stroke="#111" stroke-width="0.55"/>
<rect x="570.27" y="575.49" width="6.29" height="12.81" fill="rgba(0,128,128,0.55)" stroke="#111" stroke-width="0.55"/>
<rect x="576.56" y="582.43" width="6.29" height="5.87" fill="rgba(0,128,128,0.55)" stroke="#111" stroke-width="0.55"/>
<rect x="582.85" y="581.90" width="6.29" height="6.40" fill="rgba(0,128,128,0.55)" stroke="#111" stroke-width="0.55"/>
<rect x="589.14" y="584.03" width="6.29" height="4.27" fill="rgba(0,128,128,0.55)" stroke="#111" stroke-width="0.55"/>
<rect x="595.43" y="585.63" width="6.29" height="2.67" fill="rgba(0,128,128,0.55)" stroke="#111" stroke-width="0.55"/>
<rect x="601.72" y="586.70" width="6.29" height="1.60" fill="rgba(0,128,128,0.55)" stroke="#111" stroke-width="0.55"/>
<rect x="425.60" y="582.96" width="6.29" height="5.34" fill="rgba(128,0,128,0.5)" stroke="#111" stroke-width="0.55"/>
<rect x="444.47" y="573.36" width="6.29" height="14.94" fill="rgba(128,0,128,0.5)" stroke="#111" stroke-width="0.55"/>
<rect x="450.76" y="580.29" width="6.29" height="8.01" fill="rgba(128,0,128,0.5)" stroke="#111" stroke-width="0.55"/>
<rect x="457.05" y="561.62" width="6.29" height="26.68" fill="rgba(128,0,128,0.5)" stroke="#111" stroke-width="0.55"/>
<rect x="463.34" y="561.62" width="6.29" height="26.68" fill="rgba(128,0,128,0.5)" stroke="#111" stroke-width="0.55"/>
<rect x="469.63" y="499.17" width="6.29" height="89.13" fill="rgba(128,0,128,0.5)" stroke="#111" stroke-width="0.55"/>
<rect x="475.92" y="523.19" width="6.29" height="65.11" fill="rgba(128,0,128,0.5)" stroke="#111" stroke-width="0.55"/>
<rect x="482.21" y="507.18" width="6.29" height="81.12" fill="rgba(128,0,128,0.5)" stroke="#111" stroke-width="0.55"/>
<rect x="488.50" y="506.64" width="6.29" height="81.66" fill="rgba(128,0,128,0.5)" stroke="#111" stroke-width="0.55"/>
<rect x="494.79" y="476.22" width="6.29" height="112.08" fill="rgba(128,0,128,0.5)" stroke="#111" stroke-width="0.55"/>
<rect x="501.08" y="460.21" width="6.29" height="128.09" fill="rgba(128,0,128,0.5)" stroke="#111" stroke-width="0.55"/>
<rect x="507.37" y="431.93" width="6.29" height="156.37" fill="rgba(128,0,128,0.5)" stroke="#111" stroke-width="0.55"/>
<rect x="513.66" y="502.91" width="6.29" height="85.39" fill="rgba(128,0,128,0.5)" stroke="#111" stroke-width="0.55"/>
<rect x="519.95" y="514.12" width="6.29" height="74.18" fill="rgba(128,0,128,0.5)" stroke="#111" stroke-width="0.55"/>
<rect x="526.24" y="514.12" width="6.29" height="74.18" fill="rgba(128,0,128,0.5)" stroke="#111" stroke-width="0.55"/>
<rect x="532.53" y="533.86" width="6.29" height="54.44" fill="rgba(128,0,128,0.5)" stroke="#111" stroke-width="0.55"/>
<rect x="538.82" y="533.86" width="6.29" height="54.44" fill="rgba(128,0,128,0.5)" stroke="#111" stroke-width="0.55"/>
<rect x="545.11" y="538.13" width="6.29" height="50.17" fill="rgba(128,0,128,0.5)" stroke="#111" stroke-width="0.55"/>
<rect x="551.40" y="565.35" width="6.29" height="22.95" fill="rgba(128,0,128,0.5)" stroke="#111" stroke-width="0.55"/>
<rect x="557.69" y="565.35" width="6.29" height="22.95" fill="rgba(128,0,128,0.5)" stroke="#111" stroke-width="0.55"/>
<rect x="563.98" y="561.62" width="6.29" height="26.68" fill="rgba(128,0,128,0.5)" stroke="#111" stroke-width="0.55"/>
<rect x="570.27" y="575.49" width="6.29" height="12.81" fill="rgba(128,0,128,0.5)" stroke="#111" stroke-width="0.55"/>
<rect x="576.56" y="584.56" width="6.29" height="3.74" fill="rgba(128,0,128,0.5)" stroke="#111" stroke-width="0.55"/>
<rect x="582.85" y="577.09" width="6.29" height="11.21" fill="rgba(128,0,128,0.5)" stroke="#111" stroke-width="0.55"/>
<rect x="589.14" y="582.43" width="6.29" height="5.87" fill="rgba(128,0,128,0.5)" stroke="#111" stroke-width="0.55"/>
<rect x="595.43" y="586.70" width="6.29" height="1.60" fill="rgba(128,0,128,0.5)" stroke="#111" stroke-width="0.55"/>
<path d="M444.6,584.2 C447.7,582.3 458.1,577.6 463.1,572.6 C468.1,567.6 470.9,561.0 474.7,554.1 C478.5,547.2 482.3,538.7 486.2,531.0 C490.1,523.3 494.3,515.2 497.8,507.9 C501.3,500.6 504.5,493.0 507.1,487.0 C509.7,481.0 511.6,474.7 513.4,471.9 C515.2,469.1 516.9,470.2 518.0,470.0 C519.1,469.8 518.7,469.1 520.2,470.5 C521.7,471.9 524.7,475.5 527.0,478.7 C529.3,481.9 531.5,486.0 533.8,489.7 C536.1,493.4 538.3,496.6 540.6,500.7 C542.9,504.8 545.1,509.8 547.4,514.3 C549.6,518.8 551.9,523.6 554.1,527.9 C556.4,532.1 558.6,535.8 560.9,539.8 C563.2,543.8 565.4,548.0 567.7,551.7 C570.0,555.4 572.2,558.8 574.5,561.9 C576.8,565.0 579.0,567.9 581.3,570.4 C583.6,572.9 585.8,575.3 588.1,577.1 C590.4,578.9 592.4,580.1 594.9,581.4 C597.4,582.7 600.9,583.9 603.4,584.8 C605.9,585.6 606.4,586.0 610.0,586.5 C613.6,587.0 620.0,587.5 625.0,587.8 C630.0,588.1 637.5,588.1 640.0,588.2" fill="none" stroke="#808080" stroke-width="1.3"/>
<path d="M431.9,586.8 C433.2,586.0 436.3,584.5 440.0,581.8 C443.7,579.0 450.0,574.5 453.9,570.3 C457.8,566.1 460.0,562.2 463.1,556.4 C466.2,550.6 468.9,542.9 472.4,535.6 C475.9,528.3 480.0,520.2 483.9,512.5 C487.8,504.8 492.0,495.6 495.5,489.4 C499.0,483.2 502.3,478.3 504.7,475.5 C507.1,472.7 508.3,472.8 510.0,472.5 C511.7,472.2 513.4,472.3 515.1,473.6 C516.8,474.9 518.2,477.0 520.2,480.4 C522.2,483.8 525.0,489.5 527.0,494.0 C529.0,498.5 530.4,503.0 532.1,507.5 C533.8,512.0 535.2,516.9 537.2,521.1 C539.2,525.4 541.8,528.8 544.0,533.0 C546.2,537.2 548.5,542.4 550.7,546.6 C553.0,550.9 555.2,555.0 557.5,558.5 C559.8,562.0 562.0,565.1 564.3,567.8 C566.6,570.5 568.8,572.8 571.1,574.6 C573.4,576.4 575.6,577.5 577.9,578.8 C580.2,580.1 581.9,581.1 584.7,582.2 C587.5,583.3 591.5,584.8 594.9,585.6 C598.3,586.5 600.9,586.9 605.1,587.3 C609.3,587.7 617.5,587.9 620.0,588.0" fill="none" stroke="#008b8b" stroke-width="1.3"/>
<path d="M428.0,586.8 C428.6,586.6 429.2,586.7 431.9,585.8 C434.6,584.9 441.4,583.1 444.3,581.3 C447.2,579.5 446.9,579.6 449.3,575.1 C451.7,570.6 455.1,561.5 458.5,554.1 C461.9,546.8 466.1,538.7 470.0,531.0 C473.9,523.3 477.7,515.6 481.6,507.9 C485.5,500.2 489.9,490.7 493.2,484.7 C496.5,478.7 499.2,474.5 501.3,472.0 C503.4,469.5 504.4,469.8 505.9,469.7 C507.3,469.6 508.8,470.3 510.0,471.5 C511.2,472.7 512.0,473.5 513.4,477.0 C514.8,480.5 516.8,487.5 518.5,492.3 C520.2,497.1 521.6,501.6 523.6,505.8 C525.6,510.0 528.1,514.0 530.4,517.7 C532.7,521.4 534.9,524.8 537.2,527.9 C539.5,531.0 541.8,533.3 544.0,536.4 C546.2,539.5 548.5,543.2 550.7,546.6 C553.0,550.0 555.2,553.7 557.5,556.8 C559.8,559.9 562.0,562.8 564.3,565.3 C566.6,567.8 568.8,570.1 571.1,572.1 C573.4,574.1 575.6,575.7 577.9,577.1 C580.2,578.5 581.9,579.4 584.7,580.5 C587.5,581.6 591.5,582.9 594.9,583.9 C598.3,584.9 600.9,585.9 605.1,586.5 C609.3,587.1 617.5,587.6 620.0,587.8" fill="none" stroke="#8b008b" stroke-width="1.3"/>
<rect x="368.6" y="424.4" width="308.79999999999995" height="163.89999999999998" fill="none" stroke="#777" stroke-width="0.8"/>
<line x1="366.1" y1="588.3" x2="368.6" y2="588.3" stroke="#555" stroke-width="0.6"/>
<text x="362.6" y="591.3" text-anchor="end" style="font-size:8.6px;" fill="#231f20">0</text>
<line x1="366.1" y1="561.615" x2="368.6" y2="561.615" stroke="#555" stroke-width="0.6"/>
<text x="362.6" y="564.615" text-anchor="end" style="font-size:8.6px;" fill="#231f20">0.5</text>
<line x1="366.1" y1="534.93" x2="368.6" y2="534.93" stroke="#555" stroke-width="0.6"/>
<text x="362.6" y="537.93" text-anchor="end" style="font-size:8.6px;" fill="#231f20">1.0</text>
<line x1="366.1" y1="508.24499999999995" x2="368.6" y2="508.24499999999995" stroke="#555" stroke-width="0.6"/>
<text x="362.6" y="511.24499999999995" text-anchor="end" style="font-size:8.6px;" fill="#231f20">1.5</text>
<line x1="366.1" y1="481.55999999999995" x2="368.6" y2="481.55999999999995" stroke="#555" stroke-width="0.6"/>
<text x="362.6" y="484.55999999999995" text-anchor="end" style="font-size:8.6px;" fill="#231f20">2.0</text>
<line x1="366.1" y1="454.875" x2="368.6" y2="454.875" stroke="#555" stroke-width="0.6"/>
<text x="362.6" y="457.875" text-anchor="end" style="font-size:8.6px;" fill="#231f20">2.5</text>
<line x1="366.1" y1="428.18999999999994" x2="368.6" y2="428.18999999999994" stroke="#555" stroke-width="0.6"/>
<text x="362.6" y="431.18999999999994" text-anchor="end" style="font-size:8.6px;" fill="#231f20">3.0</text>
<line x1="368.6" y1="588.3" x2="368.6" y2="590.8" stroke="#555" stroke-width="0.6"/>
<text x="368.6" y="600.5" text-anchor="middle" style="font-size:8.6px;" fill="#231f20">−1.00</text>
<line x1="407.1" y1="588.3" x2="407.1" y2="590.8" stroke="#555" stroke-width="0.6"/>
<text x="407.1" y="600.5" text-anchor="middle" style="font-size:8.6px;" fill="#231f20">−0.75</text>
<line x1="445.6" y1="588.3" x2="445.6" y2="590.8" stroke="#555" stroke-width="0.6"/>
<text x="445.6" y="600.5" text-anchor="middle" style="font-size:8.6px;" fill="#231f20">−0.50</text>
<line x1="484.1" y1="588.3" x2="484.1" y2="590.8" stroke="#555" stroke-width="0.6"/>
<text x="484.1" y="600.5" text-anchor="middle" style="font-size:8.6px;" fill="#231f20">−0.25</text>
<line x1="522.6" y1="588.3" x2="522.6" y2="590.8" stroke="#555" stroke-width="0.6"/>
<text x="522.6" y="600.5" text-anchor="middle" style="font-size:8.6px;" fill="#231f20">0</text>
<line x1="561.1" y1="588.3" x2="561.1" y2="590.8" stroke="#555" stroke-width="0.6"/>
<text x="561.1" y="600.5" text-anchor="middle" style="font-size:8.6px;" fill="#231f20">0.25</text>
<line x1="599.6" y1="588.3" x2="599.6" y2="590.8" stroke="#555" stroke-width="0.6"/>
<text x="599.6" y="600.5" text-anchor="middle" style="font-size:8.6px;" fill="#231f20">0.50</text>
<line x1="638.1" y1="588.3" x2="638.1" y2="590.8" stroke="#555" stroke-width="0.6"/>
<text x="638.1" y="600.5" text-anchor="middle" style="font-size:8.6px;" fill="#231f20">0.75</text>
<line x1="676.6" y1="588.3" x2="676.6" y2="590.8" stroke="#555" stroke-width="0.6"/>
<text x="676.6" y="600.5" text-anchor="middle" style="font-size:8.6px;" fill="#231f20">1.00</text>
<text x="522.6" y="612.3" text-anchor="middle" style="font-size:8.9px;" fill="#231f20">Spearman <tspan font-style="italic">ρ</tspan></text>
<text x="344.5" y="506.6" text-anchor="middle" transform="rotate(-90 344.5 506.6)" textLength="29.7" lengthAdjust="spacingAndGlyphs" style="font-size:8.9px;" fill="#231f20">Density</text>
<rect x="526.0" y="429.1" width="7.6" height="7.4" fill="#cfcfcf" stroke="#333" stroke-width="0.5"/>
<text x="538.5" y="435.20000000000005" textLength="31.1" lengthAdjust="spacingAndGlyphs" style="font-size:7.6px;" fill="#231f20">All genes</text>
<rect x="526.0" y="441.3" width="7.6" height="7.4" fill="#7fc4c4" stroke="#333" stroke-width="0.5"/>
<text x="538.5" y="447.40000000000003" textLength="135.5" lengthAdjust="spacingAndGlyphs" style="font-size:7.6px;" fill="#231f20">Predicted <tspan font-style="italic">MIR137</tspan> targets (3p) (<tspan font-style="italic">n</tspan> = 1,236)</text>
<rect x="526.0" y="453.5" width="7.6" height="7.4" fill="#c480c4" stroke="#333" stroke-width="0.5"/>
<text x="538.5" y="459.6" textLength="131.0" lengthAdjust="spacingAndGlyphs" style="font-size:7.6px;" fill="#231f20">Validated <tspan font-style="italic">MIR137</tspan> targets (3p) (<tspan font-style="italic">n</tspan> = 336)</text>
<line x1="428.6" y1="545.8" x2="428.6" y2="585.0" stroke="#b040b0" stroke-width="0.6"/>
<text x="430.40000000000003" y="533.1" text-anchor="middle" transform="rotate(-90 430.40000000000003 533.1)" textLength="24.8" lengthAdjust="spacingAndGlyphs" style="font-size:6.0px;" fill="#a030a0">SLC38A2</text>
<line x1="444.8" y1="530.3" x2="444.8" y2="577.5" stroke="#b040b0" stroke-width="0.6"/>
<line x1="443.1" y1="530.3" x2="444.8" y2="530.3" stroke="#b040b0" stroke-width="0.5"/>
<text x="445.20000000000005" y="520.7" text-anchor="middle" transform="rotate(-90 445.20000000000005 520.7)" textLength="18.6" lengthAdjust="spacingAndGlyphs" style="font-size:6.0px;" fill="#a030a0">CDC42</text>
<line x1="446.2" y1="507.5" x2="446.2" y2="577.0" stroke="#b040b0" stroke-width="0.6"/>
<line x1="444.4" y1="507.5" x2="446.2" y2="507.5" stroke="#b040b0" stroke-width="0.5"/>
<text x="446.5" y="499.6" text-anchor="middle" transform="rotate(-90 446.5 499.6)" textLength="15.4" lengthAdjust="spacingAndGlyphs" style="font-size:6.0px;" fill="#a030a0">RBM4</text>
<line x1="447.6" y1="485.0" x2="447.6" y2="576.0" stroke="#b040b0" stroke-width="0.6"/>
<line x1="445.9" y1="485.0" x2="447.6" y2="485.0" stroke="#b040b0" stroke-width="0.5"/>
<text x="448.0" y="477.6" text-anchor="middle" transform="rotate(-90 448.0 477.6)" textLength="12.8" lengthAdjust="spacingAndGlyphs" style="font-size:6.0px;" fill="#a030a0">RPL11</text>
<line x1="449.0" y1="465.5" x2="449.0" y2="575.0" stroke="#b040b0" stroke-width="0.6"/>
<line x1="450.5" y1="465.5" x2="449.0" y2="465.5" stroke="#b040b0" stroke-width="0.5"/>
<text x="452.6" y="450.6" text-anchor="middle" transform="rotate(-90 452.6 450.6)" textLength="28.8" lengthAdjust="spacingAndGlyphs" style="font-size:6.0px;" fill="#a030a0">RALGAPA2</text>
<text x="405.7" y="638.0" textLength="262.2" lengthAdjust="spacingAndGlyphs" style="font-size:9.0px;" fill="#231f20">Reactome enrichment for anticorrelated <tspan font-style="italic">MIR137</tspan> validated targets</text>
<text x="495.0" y="649.6" text-anchor="end" style="font-size:9.0px;" fill="#231f20">PCP/CE pathway</text>
<line x1="498.8" y1="646.4" x2="501.4" y2="646.4" stroke="#555" stroke-width="0.6"/>
<text x="495.0" y="661.98" text-anchor="end" style="font-size:9.0px;" fill="#231f20">ER quality control compartment (ERQC)</text>
<line x1="498.8" y1="658.78" x2="501.4" y2="658.78" stroke="#555" stroke-width="0.6"/>
<text x="495.0" y="674.36" text-anchor="end" style="font-size:9.0px;" fill="#231f20">Developmental biology</text>
<line x1="498.8" y1="671.16" x2="501.4" y2="671.16" stroke="#555" stroke-width="0.6"/>
<text x="495.0" y="686.74" text-anchor="end" style="font-size:9.0px;" fill="#231f20">Signaling by WNT</text>
<line x1="498.8" y1="683.54" x2="501.4" y2="683.54" stroke="#555" stroke-width="0.6"/>
<text x="495.0" y="699.12" text-anchor="end" style="font-size:9.0px;" fill="#231f20">Beta-catenin-independent WNT signaling</text>
<line x1="498.8" y1="695.92" x2="501.4" y2="695.92" stroke="#555" stroke-width="0.6"/>
<text x="495.0" y="711.5" text-anchor="end" style="font-size:9.0px;" fill="#231f20">L1CAM interactions</text>
<line x1="498.8" y1="708.3" x2="501.4" y2="708.3" stroke="#555" stroke-width="0.6"/>
<text x="495.0" y="723.88" text-anchor="end" style="font-size:9.0px;" fill="#231f20">ALK mutants bind TKIs</text>
<line x1="498.8" y1="720.68" x2="501.4" y2="720.68" stroke="#555" stroke-width="0.6"/>
<text x="495.0" y="736.26" text-anchor="end" style="font-size:9.0px;" fill="#231f20">Axon guidance</text>
<line x1="498.8" y1="733.06" x2="501.4" y2="733.06" stroke="#555" stroke-width="0.6"/>
<text x="495.0" y="748.64" text-anchor="end" style="font-size:9.0px;" fill="#231f20">Nervous system development</text>
<line x1="498.8" y1="745.4399999999999" x2="501.4" y2="745.4399999999999" stroke="#555" stroke-width="0.6"/>
<rect x="501.4" y="641.6" width="68.89999999999998" height="108.5" fill="none" stroke="#666" stroke-width="0.8"/>
<line x1="509.4" y1="641.6" x2="509.4" y2="750.1" stroke="#e8474c" stroke-width="0.9" stroke-dasharray="3 2"/>
<text x="507.6" y="734.5" text-anchor="middle" transform="rotate(-90 507.6 734.5)" textLength="29" lengthAdjust="spacingAndGlyphs" style="font-size:6.6px;" fill="#e8474c">FDR = 0.05</text>
<circle cx="509.9" cy="646.4" r="2.4" fill="#862088"/>
<circle cx="511.3" cy="658.8" r="3.5" fill="#862088"/>
<circle cx="517.0" cy="671.2" r="1.6" fill="#862088"/>
<circle cx="530.7" cy="683.5" r="2.0" fill="#862088"/>
<circle cx="530.7" cy="695.9" r="2.0" fill="#862088"/>
<circle cx="530.7" cy="708.3" r="2.2" fill="#862088"/>
<circle cx="530.7" cy="720.7" r="4.8" fill="#862088"/>
<circle cx="562.3" cy="733.1" r="1.8" fill="#862088"/>
<circle cx="562.3" cy="745.4" r="1.8" fill="#862088"/>
<line x1="517.3" y1="750.1" x2="517.3" y2="752.6" stroke="#555" stroke-width="0.6"/>
<text x="517.3" y="762.6" text-anchor="middle" style="font-size:8.6px;" fill="#231f20">1.5</text>
<line x1="538.4" y1="750.1" x2="538.4" y2="752.6" stroke="#555" stroke-width="0.6"/>
<text x="538.4" y="762.6" text-anchor="middle" style="font-size:8.6px;" fill="#231f20">2.0</text>
<line x1="559.7" y1="750.1" x2="559.7" y2="752.6" stroke="#555" stroke-width="0.6"/>
<text x="559.7" y="762.6" text-anchor="middle" style="font-size:8.6px;" fill="#231f20">2.5</text>
<text x="537.0" y="775.4" text-anchor="middle" style="font-size:9.0px;" fill="#231f20">−log<tspan font-size="6" dy="2">10</tspan><tspan dy="-2">(FDR)</tspan></text>
<text x="579.7" y="652.2" textLength="42.7" lengthAdjust="spacingAndGlyphs" style="font-size:9.2px;" fill="#231f20">Odds ratio</text>
<circle cx="589.6" cy="657.9" r="1.1" fill="#862088"/>
<text x="599.6" y="660.9" style="font-size:8.6px;" fill="#231f20">1</text>
<circle cx="589.6" cy="667.5" r="2.0" fill="#862088"/>
<text x="599.6" y="670.5" style="font-size:8.6px;" fill="#231f20">2</text>
<circle cx="589.6" cy="676.4" r="3.0" fill="#862088"/>
<text x="599.6" y="679.4" style="font-size:8.6px;" fill="#231f20">5</text>
<circle cx="589.6" cy="685.2" r="4.0" fill="#862088"/>
<text x="599.6" y="688.2" style="font-size:8.6px;" fill="#231f20">10</text>
<circle cx="589.6" cy="694.6" r="5.1" fill="#862088"/>
<text x="599.6" y="697.6" style="font-size:8.6px;" fill="#231f20">15</text>
</svg>
</body></html>
